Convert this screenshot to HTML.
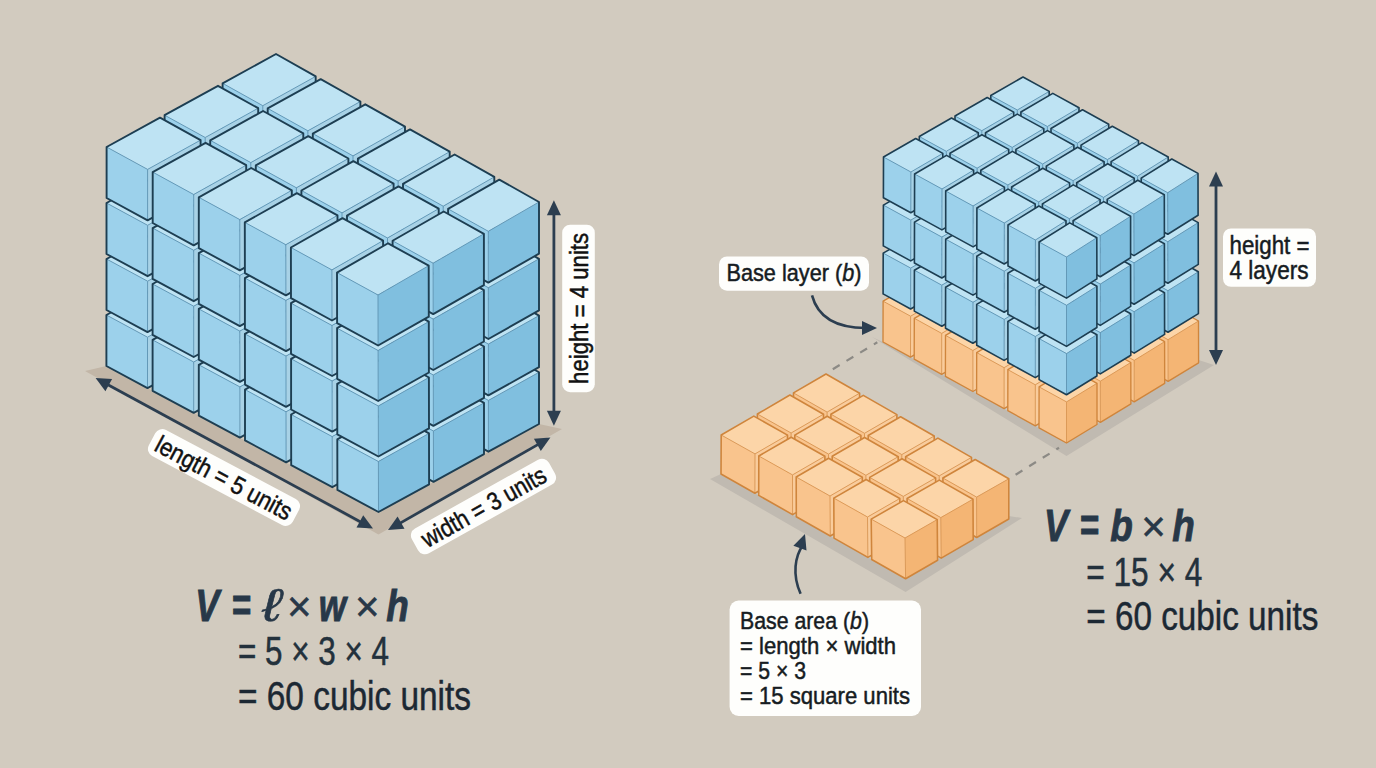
<!DOCTYPE html>
<html><head><meta charset="utf-8">
<style>
html,body{margin:0;padding:0;width:1376px;height:768px;overflow:hidden;background:#d2cbbf;}
svg{position:absolute;left:0;top:0;}
text{font-family:"Liberation Sans",sans-serif;}
</style></head><body>
<svg width="1376" height="768" viewBox="0 0 1376 768">
<polygon points="85,371 378.5,534.5 562,429 539,424 378.5,512 106.4,366" fill="#c2b6a7"/>
<polygon points="222.6,251.3 262.7,273.9 315.7,244.7 276.0,222.0" fill="#bee3f3"/>
<polygon points="222.6,302.3 262.7,324.9 262.7,273.9 222.6,251.3" fill="#9cd1eb"/>
<polygon points="262.7,324.9 315.7,295.8 315.7,244.7 262.7,273.9" fill="#a8d2e6"/>
<polyline points="222.6,251.3 262.7,273.9 315.7,244.7" fill="none" stroke="#6399b8" stroke-width="1"/>
<line x1="262.7" y1="273.9" x2="262.7" y2="324.9" stroke="#6399b8" stroke-width="1"/>
<polygon points="222.6,302.3 262.7,324.9 315.7,295.8 315.7,244.7 276.0,222.0 222.6,251.3" fill="none" stroke="#1d3e52" stroke-width="1.90" stroke-linejoin="round"/>
<polygon points="164.5,283.2 205.1,305.5 258.1,276.4 217.9,253.9" fill="#bee3f3"/>
<polygon points="164.5,334.2 205.1,356.5 205.1,305.5 164.5,283.2" fill="#9cd1eb"/>
<polygon points="205.1,356.5 258.1,327.4 258.1,276.4 205.1,305.5" fill="#a8d2e6"/>
<polyline points="164.5,283.2 205.1,305.5 258.1,276.4" fill="none" stroke="#6399b8" stroke-width="1"/>
<line x1="205.1" y1="305.5" x2="205.1" y2="356.5" stroke="#6399b8" stroke-width="1"/>
<polygon points="164.5,334.2 205.1,356.5 258.1,327.4 258.1,276.4 217.9,253.9 164.5,283.2" fill="none" stroke="#1d3e52" stroke-width="1.90" stroke-linejoin="round"/>
<polygon points="267.7,276.6 307.9,299.2 360.4,270.3 320.7,247.5" fill="#bee3f3"/>
<polygon points="267.7,327.7 307.9,350.2 307.9,299.2 267.7,276.6" fill="#9cd1eb"/>
<polygon points="307.9,350.2 360.4,321.5 360.4,270.3 307.9,299.2" fill="#a8d2e6"/>
<polyline points="267.7,276.6 307.9,299.2 360.4,270.3" fill="none" stroke="#6399b8" stroke-width="1"/>
<line x1="307.9" y1="299.2" x2="307.9" y2="350.2" stroke="#6399b8" stroke-width="1"/>
<polygon points="267.7,327.7 307.9,350.2 360.4,321.5 360.4,270.3 320.7,247.5 267.7,276.6" fill="none" stroke="#1d3e52" stroke-width="1.90" stroke-linejoin="round"/>
<polygon points="222.6,195.3 262.8,217.8 315.7,188.6 276.0,166.0" fill="#bee3f3"/>
<polygon points="222.6,246.3 262.7,268.8 262.8,217.8 222.6,195.3" fill="#9cd1eb"/>
<polygon points="262.7,268.8 315.7,239.7 315.7,188.6 262.8,217.8" fill="#a8d2e6"/>
<polyline points="222.6,195.3 262.8,217.8 315.7,188.6" fill="none" stroke="#6399b8" stroke-width="1"/>
<line x1="262.8" y1="217.8" x2="262.7" y2="268.8" stroke="#6399b8" stroke-width="1"/>
<polygon points="222.6,246.3 262.7,268.8 315.7,239.7 315.7,188.6 276.0,166.0 222.6,195.3" fill="none" stroke="#1d3e52" stroke-width="1.90" stroke-linejoin="round"/>
<polygon points="106.4,315.0 147.5,337.2 200.5,308.0 159.9,285.7" fill="#bee3f3"/>
<polygon points="106.4,366.0 147.5,388.1 147.5,337.2 106.4,315.0" fill="#9cd1eb"/>
<polygon points="147.5,388.1 200.5,359.0 200.5,308.0 147.5,337.2" fill="#a8d2e6"/>
<polyline points="106.4,315.0 147.5,337.2 200.5,308.0" fill="none" stroke="#6399b8" stroke-width="1"/>
<line x1="147.5" y1="337.2" x2="147.5" y2="388.1" stroke="#6399b8" stroke-width="1"/>
<polygon points="106.4,366.0 147.5,388.1 200.5,359.0 200.5,308.0 159.9,285.7 106.4,315.0" fill="none" stroke="#1d3e52" stroke-width="1.90" stroke-linejoin="round"/>
<polygon points="210.2,308.3 250.8,330.6 303.3,301.7 263.1,279.2" fill="#bee3f3"/>
<polygon points="210.2,359.2 250.8,381.5 250.8,330.6 210.2,308.3" fill="#9cd1eb"/>
<polygon points="250.8,381.5 303.3,352.8 303.3,301.7 250.8,330.6" fill="#a8d2e6"/>
<polyline points="210.2,308.3 250.8,330.6 303.3,301.7" fill="none" stroke="#6399b8" stroke-width="1"/>
<line x1="250.8" y1="330.6" x2="250.8" y2="381.5" stroke="#6399b8" stroke-width="1"/>
<polygon points="210.2,359.2 250.8,381.5 303.3,352.8 303.3,301.7 263.1,279.2 210.2,308.3" fill="none" stroke="#1d3e52" stroke-width="1.90" stroke-linejoin="round"/>
<polygon points="312.8,302.0 353.0,324.5 405.0,295.8 365.3,273.1" fill="#bee3f3"/>
<polygon points="312.8,353.0 353.0,375.6 353.0,324.5 312.8,302.0" fill="#9cd1eb"/>
<polygon points="353.0,375.6 405.0,347.1 405.0,295.8 353.0,324.5" fill="#a8d2e6"/>
<polyline points="312.8,302.0 353.0,324.5 405.0,295.8" fill="none" stroke="#6399b8" stroke-width="1"/>
<line x1="353.0" y1="324.5" x2="353.0" y2="375.6" stroke="#6399b8" stroke-width="1"/>
<polygon points="312.8,353.0 353.0,375.6 405.0,347.1 405.0,295.8 365.3,273.1 312.8,302.0" fill="none" stroke="#1d3e52" stroke-width="1.90" stroke-linejoin="round"/>
<polygon points="164.5,227.2 205.2,249.5 258.1,220.3 218.0,197.9" fill="#bee3f3"/>
<polygon points="164.5,278.1 205.1,300.5 205.2,249.5 164.5,227.2" fill="#9cd1eb"/>
<polygon points="205.1,300.5 258.1,271.3 258.1,220.3 205.2,249.5" fill="#a8d2e6"/>
<polyline points="164.5,227.2 205.2,249.5 258.1,220.3" fill="none" stroke="#6399b8" stroke-width="1"/>
<line x1="205.2" y1="249.5" x2="205.1" y2="300.5" stroke="#6399b8" stroke-width="1"/>
<polygon points="164.5,278.1 205.1,300.5 258.1,271.3 258.1,220.3 218.0,197.9 164.5,227.2" fill="none" stroke="#1d3e52" stroke-width="1.90" stroke-linejoin="round"/>
<polygon points="267.7,220.6 307.9,243.0 360.4,214.0 320.7,191.4" fill="#bee3f3"/>
<polygon points="267.7,271.6 307.9,294.1 307.9,243.0 267.7,220.6" fill="#9cd1eb"/>
<polygon points="307.9,294.1 360.4,265.2 360.4,214.0 307.9,243.0" fill="#a8d2e6"/>
<polyline points="267.7,220.6 307.9,243.0 360.4,214.0" fill="none" stroke="#6399b8" stroke-width="1"/>
<line x1="307.9" y1="243.0" x2="307.9" y2="294.1" stroke="#6399b8" stroke-width="1"/>
<polygon points="267.7,271.6 307.9,294.1 360.4,265.2 360.4,214.0 320.7,191.4 267.7,220.6" fill="none" stroke="#1d3e52" stroke-width="1.90" stroke-linejoin="round"/>
<polygon points="222.6,139.3 262.8,161.7 315.7,132.5 276.0,110.0" fill="#bee3f3"/>
<polygon points="222.6,190.3 262.8,212.7 262.8,161.7 222.6,139.3" fill="#9cd1eb"/>
<polygon points="262.8,212.7 315.7,183.6 315.7,132.5 262.8,161.7" fill="#a8d2e6"/>
<polyline points="222.6,139.3 262.8,161.7 315.7,132.5" fill="none" stroke="#6399b8" stroke-width="1"/>
<line x1="262.8" y1="161.7" x2="262.8" y2="212.7" stroke="#6399b8" stroke-width="1"/>
<polygon points="222.6,190.3 262.8,212.7 315.7,183.6 315.7,132.5 276.0,110.0 222.6,139.3" fill="none" stroke="#1d3e52" stroke-width="1.90" stroke-linejoin="round"/>
<polygon points="152.6,339.9 193.7,362.0 246.2,333.1 205.6,310.8" fill="#bee3f3"/>
<polygon points="152.6,390.8 193.7,412.8 193.7,362.0 152.6,339.9" fill="#9cd1eb"/>
<polygon points="193.7,412.8 246.2,384.1 246.2,333.1 193.7,362.0" fill="#a8d2e6"/>
<polyline points="152.6,339.9 193.7,362.0 246.2,333.1" fill="none" stroke="#6399b8" stroke-width="1"/>
<line x1="193.7" y1="362.0" x2="193.7" y2="412.8" stroke="#6399b8" stroke-width="1"/>
<polygon points="152.6,390.8 193.7,412.8 246.2,384.1 246.2,333.1 205.6,310.8 152.6,339.9" fill="none" stroke="#1d3e52" stroke-width="1.90" stroke-linejoin="round"/>
<polygon points="255.8,333.4 296.4,355.7 348.5,327.0 308.3,304.5" fill="#bee3f3"/>
<polygon points="255.8,384.3 296.5,406.6 296.4,355.7 255.8,333.4" fill="#9cd1eb"/>
<polygon points="296.5,406.6 348.5,378.1 348.5,327.0 296.4,355.7" fill="#a8d2e6"/>
<polyline points="255.8,333.4 296.4,355.7 348.5,327.0" fill="none" stroke="#6399b8" stroke-width="1"/>
<line x1="296.4" y1="355.7" x2="296.5" y2="406.6" stroke="#6399b8" stroke-width="1"/>
<polygon points="255.8,384.3 296.5,406.6 348.5,378.1 348.5,327.0 308.3,304.5 255.8,333.4" fill="none" stroke="#1d3e52" stroke-width="1.90" stroke-linejoin="round"/>
<polygon points="358.0,327.3 398.1,349.8 449.7,321.3 410.0,298.6" fill="#bee3f3"/>
<polygon points="358.0,378.4 398.2,401.0 398.1,349.8 358.0,327.3" fill="#9cd1eb"/>
<polygon points="398.2,401.0 449.7,372.7 449.7,321.3 398.1,349.8" fill="#a8d2e6"/>
<polyline points="358.0,327.3 398.1,349.8 449.7,321.3" fill="none" stroke="#6399b8" stroke-width="1"/>
<line x1="398.1" y1="349.8" x2="398.2" y2="401.0" stroke="#6399b8" stroke-width="1"/>
<polygon points="358.0,378.4 398.2,401.0 449.7,372.7 449.7,321.3 410.0,298.6 358.0,327.3" fill="none" stroke="#1d3e52" stroke-width="1.90" stroke-linejoin="round"/>
<polygon points="106.5,259.0 147.6,281.2 200.5,252.0 159.9,229.7" fill="#bee3f3"/>
<polygon points="106.5,310.0 147.5,332.1 147.6,281.2 106.5,259.0" fill="#9cd1eb"/>
<polygon points="147.5,332.1 200.5,303.0 200.5,252.0 147.6,281.2" fill="#a8d2e6"/>
<polyline points="106.5,259.0 147.6,281.2 200.5,252.0" fill="none" stroke="#6399b8" stroke-width="1"/>
<line x1="147.6" y1="281.2" x2="147.5" y2="332.1" stroke="#6399b8" stroke-width="1"/>
<polygon points="106.5,310.0 147.5,332.1 200.5,303.0 200.5,252.0 159.9,229.7 106.5,259.0" fill="none" stroke="#1d3e52" stroke-width="1.90" stroke-linejoin="round"/>
<polygon points="210.2,252.3 250.8,274.6 303.3,245.6 263.1,223.1" fill="#bee3f3"/>
<polygon points="210.2,303.2 250.8,325.6 250.8,274.6 210.2,252.3" fill="#9cd1eb"/>
<polygon points="250.8,325.6 303.3,296.6 303.3,245.6 250.8,274.6" fill="#a8d2e6"/>
<polyline points="210.2,252.3 250.8,274.6 303.3,245.6" fill="none" stroke="#6399b8" stroke-width="1"/>
<line x1="250.8" y1="274.6" x2="250.8" y2="325.6" stroke="#6399b8" stroke-width="1"/>
<polygon points="210.2,303.2 250.8,325.6 303.3,296.6 303.3,245.6 263.1,223.1 210.2,252.3" fill="none" stroke="#1d3e52" stroke-width="1.90" stroke-linejoin="round"/>
<polygon points="312.8,245.8 353.0,268.3 405.0,239.4 365.3,216.8" fill="#bee3f3"/>
<polygon points="312.8,296.9 353.0,319.4 353.0,268.3 312.8,245.8" fill="#9cd1eb"/>
<polygon points="353.0,319.4 405.0,290.7 405.0,239.4 353.0,268.3" fill="#a8d2e6"/>
<polyline points="312.8,245.8 353.0,268.3 405.0,239.4" fill="none" stroke="#6399b8" stroke-width="1"/>
<line x1="353.0" y1="268.3" x2="353.0" y2="319.4" stroke="#6399b8" stroke-width="1"/>
<polygon points="312.8,296.9 353.0,319.4 405.0,290.7 405.0,239.4 365.3,216.8 312.8,245.8" fill="none" stroke="#1d3e52" stroke-width="1.90" stroke-linejoin="round"/>
<polygon points="164.6,171.2 205.2,193.5 258.2,164.3 218.0,141.9" fill="#bee3f3"/>
<polygon points="164.5,222.1 205.2,244.5 205.2,193.5 164.6,171.2" fill="#9cd1eb"/>
<polygon points="205.2,244.5 258.1,215.3 258.2,164.3 205.2,193.5" fill="#a8d2e6"/>
<polyline points="164.6,171.2 205.2,193.5 258.2,164.3" fill="none" stroke="#6399b8" stroke-width="1"/>
<line x1="205.2" y1="193.5" x2="205.2" y2="244.5" stroke="#6399b8" stroke-width="1"/>
<polygon points="164.5,222.1 205.2,244.5 258.1,215.3 258.2,164.3 218.0,141.9 164.6,171.2" fill="none" stroke="#1d3e52" stroke-width="1.90" stroke-linejoin="round"/>
<polygon points="267.7,164.5 307.9,186.9 360.4,157.7 320.7,135.3" fill="#bee3f3"/>
<polygon points="267.7,215.5 307.9,238.0 307.9,186.9 267.7,164.5" fill="#9cd1eb"/>
<polygon points="307.9,238.0 360.4,208.9 360.4,157.7 307.9,186.9" fill="#a8d2e6"/>
<polyline points="267.7,164.5 307.9,186.9 360.4,157.7" fill="none" stroke="#6399b8" stroke-width="1"/>
<line x1="307.9" y1="186.9" x2="307.9" y2="238.0" stroke="#6399b8" stroke-width="1"/>
<polygon points="267.7,215.5 307.9,238.0 360.4,208.9 360.4,157.7 320.7,135.3 267.7,164.5" fill="none" stroke="#1d3e52" stroke-width="1.90" stroke-linejoin="round"/>
<polygon points="222.6,83.3 262.8,105.7 315.7,76.4 276.0,54.0" fill="#bee3f3"/>
<polygon points="222.6,134.3 262.8,156.7 262.8,105.7 222.6,83.3" fill="#9cd1eb"/>
<polygon points="262.8,156.7 315.7,127.4 315.7,76.4 262.8,105.7" fill="#a8d2e6"/>
<polyline points="222.6,83.3 262.8,105.7 315.7,76.4" fill="none" stroke="#6399b8" stroke-width="1"/>
<line x1="262.8" y1="105.7" x2="262.8" y2="156.7" stroke="#6399b8" stroke-width="1"/>
<polygon points="222.6,134.3 262.8,156.7 315.7,127.4 315.7,76.4 276.0,54.0 222.6,83.3" fill="none" stroke="#1d3e52" stroke-width="1.90" stroke-linejoin="round"/>
<polygon points="198.8,364.8 239.9,386.9 291.9,358.2 251.2,335.9" fill="#bee3f3"/>
<polygon points="198.8,415.6 239.9,437.6 239.9,386.9 198.8,364.8" fill="#9cd1eb"/>
<polygon points="239.9,437.6 291.9,409.1 291.9,358.2 239.9,386.9" fill="#a8d2e6"/>
<polyline points="198.8,364.8 239.9,386.9 291.9,358.2" fill="none" stroke="#6399b8" stroke-width="1"/>
<line x1="239.9" y1="386.9" x2="239.9" y2="437.6" stroke="#6399b8" stroke-width="1"/>
<polygon points="198.8,415.6 239.9,437.6 291.9,409.1 291.9,358.2 251.2,335.9 198.8,364.8" fill="none" stroke="#1d3e52" stroke-width="1.90" stroke-linejoin="round"/>
<polygon points="301.5,358.5 342.1,380.8 393.7,352.3 353.4,329.8" fill="#bee3f3"/>
<polygon points="301.5,409.4 342.1,431.7 342.1,380.8 301.5,358.5" fill="#9cd1eb"/>
<polygon points="342.1,431.7 393.7,403.4 393.7,352.3 342.1,380.8" fill="#a8d2e6"/>
<polyline points="301.5,358.5 342.1,380.8 393.7,352.3" fill="none" stroke="#6399b8" stroke-width="1"/>
<line x1="342.1" y1="380.8" x2="342.1" y2="431.7" stroke="#6399b8" stroke-width="1"/>
<polygon points="301.5,409.4 342.1,431.7 393.7,403.4 393.7,352.3 353.4,329.8 301.5,358.5" fill="none" stroke="#1d3e52" stroke-width="1.90" stroke-linejoin="round"/>
<polygon points="403.1,352.6 443.3,375.1 494.3,346.8 454.6,324.1" fill="#bee3f3"/>
<polygon points="403.1,403.8 443.3,426.4 443.3,375.1 403.1,352.6" fill="#9cd1eb"/>
<polygon points="443.3,426.4 494.3,398.4 494.3,346.8 443.3,375.1" fill="#a8d2e6"/>
<polyline points="403.1,352.6 443.3,375.1 494.3,346.8" fill="none" stroke="#6399b8" stroke-width="1"/>
<line x1="443.3" y1="375.1" x2="443.3" y2="426.4" stroke="#6399b8" stroke-width="1"/>
<polygon points="403.1,403.8 443.3,426.4 494.3,398.4 494.3,346.8 454.6,324.1 403.1,352.6" fill="none" stroke="#1d3e52" stroke-width="1.90" stroke-linejoin="round"/>
<polygon points="152.6,284.0 193.7,306.2 246.2,277.1 205.6,254.8" fill="#bee3f3"/>
<polygon points="152.6,334.9 193.7,357.0 193.7,306.2 152.6,284.0" fill="#9cd1eb"/>
<polygon points="193.7,357.0 246.2,328.1 246.2,277.1 193.7,306.2" fill="#a8d2e6"/>
<polyline points="152.6,284.0 193.7,306.2 246.2,277.1" fill="none" stroke="#6399b8" stroke-width="1"/>
<line x1="193.7" y1="306.2" x2="193.7" y2="357.0" stroke="#6399b8" stroke-width="1"/>
<polygon points="152.6,334.9 193.7,357.0 246.2,328.1 246.2,277.1 205.6,254.8 152.6,284.0" fill="none" stroke="#1d3e52" stroke-width="1.90" stroke-linejoin="round"/>
<polygon points="255.8,277.4 296.4,299.7 348.5,270.8 308.3,248.3" fill="#bee3f3"/>
<polygon points="255.8,328.3 296.4,350.7 296.4,299.7 255.8,277.4" fill="#9cd1eb"/>
<polygon points="296.4,350.7 348.5,321.9 348.5,270.8 296.4,299.7" fill="#a8d2e6"/>
<polyline points="255.8,277.4 296.4,299.7 348.5,270.8" fill="none" stroke="#6399b8" stroke-width="1"/>
<line x1="296.4" y1="299.7" x2="296.4" y2="350.7" stroke="#6399b8" stroke-width="1"/>
<polygon points="255.8,328.3 296.4,350.7 348.5,321.9 348.5,270.8 308.3,248.3 255.8,277.4" fill="none" stroke="#1d3e52" stroke-width="1.90" stroke-linejoin="round"/>
<polygon points="358.0,271.1 398.1,293.5 449.7,264.8 410.0,242.2" fill="#bee3f3"/>
<polygon points="358.0,322.2 398.1,344.7 398.1,293.5 358.0,271.1" fill="#9cd1eb"/>
<polygon points="398.1,344.7 449.7,316.2 449.7,264.8 398.1,293.5" fill="#a8d2e6"/>
<polyline points="358.0,271.1 398.1,293.5 449.7,264.8" fill="none" stroke="#6399b8" stroke-width="1"/>
<line x1="398.1" y1="293.5" x2="398.1" y2="344.7" stroke="#6399b8" stroke-width="1"/>
<polygon points="358.0,322.2 398.1,344.7 449.7,316.2 449.7,264.8 410.0,242.2 358.0,271.1" fill="none" stroke="#1d3e52" stroke-width="1.90" stroke-linejoin="round"/>
<polygon points="106.5,203.0 147.6,225.3 200.6,196.1 159.9,173.7" fill="#bee3f3"/>
<polygon points="106.5,254.0 147.6,276.2 147.6,225.3 106.5,203.0" fill="#9cd1eb"/>
<polygon points="147.6,276.2 200.6,247.0 200.6,196.1 147.6,225.3" fill="#a8d2e6"/>
<polyline points="106.5,203.0 147.6,225.3 200.6,196.1" fill="none" stroke="#6399b8" stroke-width="1"/>
<line x1="147.6" y1="225.3" x2="147.6" y2="276.2" stroke="#6399b8" stroke-width="1"/>
<polygon points="106.5,254.0 147.6,276.2 200.6,247.0 200.6,196.1 159.9,173.7 106.5,203.0" fill="none" stroke="#1d3e52" stroke-width="1.90" stroke-linejoin="round"/>
<polygon points="210.2,196.3 250.8,218.6 303.3,189.5 263.1,167.0" fill="#bee3f3"/>
<polygon points="210.2,247.2 250.8,269.6 250.8,218.6 210.2,196.3" fill="#9cd1eb"/>
<polygon points="250.8,269.6 303.3,240.5 303.3,189.5 250.8,218.6" fill="#a8d2e6"/>
<polyline points="210.2,196.3 250.8,218.6 303.3,189.5" fill="none" stroke="#6399b8" stroke-width="1"/>
<line x1="250.8" y1="218.6" x2="250.8" y2="269.6" stroke="#6399b8" stroke-width="1"/>
<polygon points="210.2,247.2 250.8,269.6 303.3,240.5 303.3,189.5 263.1,167.0 210.2,196.3" fill="none" stroke="#1d3e52" stroke-width="1.90" stroke-linejoin="round"/>
<polygon points="312.8,189.7 353.0,212.1 405.0,183.0 365.3,160.5" fill="#bee3f3"/>
<polygon points="312.8,240.8 353.0,263.2 353.0,212.1 312.8,189.7" fill="#9cd1eb"/>
<polygon points="353.0,263.2 405.0,234.3 405.0,183.0 353.0,212.1" fill="#a8d2e6"/>
<polyline points="312.8,189.7 353.0,212.1 405.0,183.0" fill="none" stroke="#6399b8" stroke-width="1"/>
<line x1="353.0" y1="212.1" x2="353.0" y2="263.2" stroke="#6399b8" stroke-width="1"/>
<polygon points="312.8,240.8 353.0,263.2 405.0,234.3 405.0,183.0 365.3,160.5 312.8,189.7" fill="none" stroke="#1d3e52" stroke-width="1.90" stroke-linejoin="round"/>
<polygon points="164.6,115.2 205.2,137.5 258.2,108.2 218.0,85.8" fill="#bee3f3"/>
<polygon points="164.6,166.1 205.2,188.5 205.2,137.5 164.6,115.2" fill="#9cd1eb"/>
<polygon points="205.2,188.5 258.2,159.2 258.2,108.2 205.2,137.5" fill="#a8d2e6"/>
<polyline points="164.6,115.2 205.2,137.5 258.2,108.2" fill="none" stroke="#6399b8" stroke-width="1"/>
<line x1="205.2" y1="137.5" x2="205.2" y2="188.5" stroke="#6399b8" stroke-width="1"/>
<polygon points="164.6,166.1 205.2,188.5 258.2,159.2 258.2,108.2 218.0,85.8 164.6,115.2" fill="none" stroke="#1d3e52" stroke-width="1.90" stroke-linejoin="round"/>
<polygon points="267.7,108.4 307.9,130.8 360.4,101.5 320.7,79.1" fill="#bee3f3"/>
<polygon points="267.7,159.5 307.9,181.9 307.9,130.8 267.7,108.4" fill="#9cd1eb"/>
<polygon points="307.9,181.9 360.4,152.7 360.4,101.5 307.9,130.8" fill="#a8d2e6"/>
<polyline points="267.7,108.4 307.9,130.8 360.4,101.5" fill="none" stroke="#6399b8" stroke-width="1"/>
<line x1="307.9" y1="130.8" x2="307.9" y2="181.9" stroke="#6399b8" stroke-width="1"/>
<polygon points="267.7,159.5 307.9,181.9 360.4,152.7 360.4,101.5 320.7,79.1 267.7,108.4" fill="none" stroke="#1d3e52" stroke-width="1.90" stroke-linejoin="round"/>
<polygon points="245.0,389.6 286.0,411.8 337.6,383.3 296.9,360.9" fill="#bee3f3"/>
<polygon points="245.0,440.4 286.1,462.4 286.0,411.8 245.0,389.6" fill="#9cd1eb"/>
<polygon points="286.1,462.4 337.6,434.2 337.6,383.3 286.0,411.8" fill="#a8d2e6"/>
<polyline points="245.0,389.6 286.0,411.8 337.6,383.3" fill="none" stroke="#6399b8" stroke-width="1"/>
<line x1="286.0" y1="411.8" x2="286.1" y2="462.4" stroke="#6399b8" stroke-width="1"/>
<polygon points="245.0,440.4 286.1,462.4 337.6,434.2 337.6,383.3 296.9,360.9 245.0,389.6" fill="none" stroke="#1d3e52" stroke-width="1.90" stroke-linejoin="round"/>
<polygon points="347.1,383.5 387.7,405.9 438.8,377.6 398.6,355.1" fill="#bee3f3"/>
<polygon points="347.2,434.5 387.8,456.8 387.7,405.9 347.1,383.5" fill="#9cd1eb"/>
<polygon points="387.8,456.8 438.9,428.8 438.8,377.6 387.7,405.9" fill="#a8d2e6"/>
<polyline points="347.1,383.5 387.7,405.9 438.8,377.6" fill="none" stroke="#6399b8" stroke-width="1"/>
<line x1="387.7" y1="405.9" x2="387.8" y2="456.8" stroke="#6399b8" stroke-width="1"/>
<polygon points="347.2,434.5 387.8,456.8 438.9,428.8 438.8,377.6 398.6,355.1 347.1,383.5" fill="none" stroke="#1d3e52" stroke-width="1.90" stroke-linejoin="round"/>
<polygon points="448.2,377.9 488.4,400.4 539.0,372.3 499.3,349.6" fill="#bee3f3"/>
<polygon points="448.3,429.1 488.4,451.7 488.4,400.4 448.2,377.9" fill="#9cd1eb"/>
<polygon points="488.4,451.7 539.0,424.0 539.0,372.3 488.4,400.4" fill="#80bfdf"/>
<polyline points="448.2,377.9 488.4,400.4 539.0,372.3" fill="none" stroke="#6399b8" stroke-width="1"/>
<line x1="488.4" y1="400.4" x2="488.4" y2="451.7" stroke="#6399b8" stroke-width="1"/>
<polygon points="448.3,429.1 488.4,451.7 539.0,424.0 539.0,372.3 499.3,349.6 448.2,377.9" fill="none" stroke="#1d3e52" stroke-width="1.90" stroke-linejoin="round"/>
<polygon points="198.8,308.9 239.8,331.1 291.9,302.2 251.2,279.9" fill="#bee3f3"/>
<polygon points="198.8,359.7 239.9,381.9 239.8,331.1 198.8,308.9" fill="#9cd1eb"/>
<polygon points="239.9,381.9 291.9,353.2 291.9,302.2 239.8,331.1" fill="#a8d2e6"/>
<polyline points="198.8,308.9 239.8,331.1 291.9,302.2" fill="none" stroke="#6399b8" stroke-width="1"/>
<line x1="239.8" y1="331.1" x2="239.9" y2="381.9" stroke="#6399b8" stroke-width="1"/>
<polygon points="198.8,359.7 239.9,381.9 291.9,353.2 291.9,302.2 251.2,279.9 198.8,308.9" fill="none" stroke="#1d3e52" stroke-width="1.90" stroke-linejoin="round"/>
<polygon points="301.4,302.5 342.0,324.8 393.6,296.1 353.4,273.6" fill="#bee3f3"/>
<polygon points="301.5,353.4 342.1,375.7 342.0,324.8 301.4,302.5" fill="#9cd1eb"/>
<polygon points="342.1,375.7 393.6,347.2 393.6,296.1 342.0,324.8" fill="#a8d2e6"/>
<polyline points="301.4,302.5 342.0,324.8 393.6,296.1" fill="none" stroke="#6399b8" stroke-width="1"/>
<line x1="342.0" y1="324.8" x2="342.1" y2="375.7" stroke="#6399b8" stroke-width="1"/>
<polygon points="301.5,353.4 342.1,375.7 393.6,347.2 393.6,296.1 353.4,273.6 301.4,302.5" fill="none" stroke="#1d3e52" stroke-width="1.90" stroke-linejoin="round"/>
<polygon points="403.1,296.3 443.2,318.8 494.3,290.2 454.6,267.6" fill="#bee3f3"/>
<polygon points="403.1,347.5 443.3,370.0 443.2,318.8 403.1,296.3" fill="#9cd1eb"/>
<polygon points="443.3,370.0 494.3,341.7 494.3,290.2 443.2,318.8" fill="#a8d2e6"/>
<polyline points="403.1,296.3 443.2,318.8 494.3,290.2" fill="none" stroke="#6399b8" stroke-width="1"/>
<line x1="443.2" y1="318.8" x2="443.3" y2="370.0" stroke="#6399b8" stroke-width="1"/>
<polygon points="403.1,347.5 443.3,370.0 494.3,341.7 494.3,290.2 454.6,267.6 403.1,296.3" fill="none" stroke="#1d3e52" stroke-width="1.90" stroke-linejoin="round"/>
<polygon points="152.7,228.1 193.7,250.3 246.2,221.2 205.6,198.8" fill="#bee3f3"/>
<polygon points="152.6,278.9 193.7,301.2 193.7,250.3 152.7,228.1" fill="#9cd1eb"/>
<polygon points="193.7,301.2 246.2,272.1 246.2,221.2 193.7,250.3" fill="#a8d2e6"/>
<polyline points="152.7,228.1 193.7,250.3 246.2,221.2" fill="none" stroke="#6399b8" stroke-width="1"/>
<line x1="193.7" y1="250.3" x2="193.7" y2="301.2" stroke="#6399b8" stroke-width="1"/>
<polygon points="152.6,278.9 193.7,301.2 246.2,272.1 246.2,221.2 205.6,198.8 152.7,228.1" fill="none" stroke="#1d3e52" stroke-width="1.90" stroke-linejoin="round"/>
<polygon points="255.8,221.4 296.4,243.7 348.5,214.6 308.3,192.2" fill="#bee3f3"/>
<polygon points="255.8,272.3 296.4,294.7 296.4,243.7 255.8,221.4" fill="#9cd1eb"/>
<polygon points="296.4,294.7 348.5,265.8 348.5,214.6 296.4,243.7" fill="#a8d2e6"/>
<polyline points="255.8,221.4 296.4,243.7 348.5,214.6" fill="none" stroke="#6399b8" stroke-width="1"/>
<line x1="296.4" y1="243.7" x2="296.4" y2="294.7" stroke="#6399b8" stroke-width="1"/>
<polygon points="255.8,272.3 296.4,294.7 348.5,265.8 348.5,214.6 308.3,192.2 255.8,221.4" fill="none" stroke="#1d3e52" stroke-width="1.90" stroke-linejoin="round"/>
<polygon points="357.9,214.9 398.1,237.3 449.7,208.3 410.0,185.8" fill="#bee3f3"/>
<polygon points="358.0,266.0 398.1,288.5 398.1,237.3 357.9,214.9" fill="#9cd1eb"/>
<polygon points="398.1,288.5 449.7,259.7 449.7,208.3 398.1,237.3" fill="#a8d2e6"/>
<polyline points="357.9,214.9 398.1,237.3 449.7,208.3" fill="none" stroke="#6399b8" stroke-width="1"/>
<line x1="398.1" y1="237.3" x2="398.1" y2="288.5" stroke="#6399b8" stroke-width="1"/>
<polygon points="358.0,266.0 398.1,288.5 449.7,259.7 449.7,208.3 410.0,185.8 357.9,214.9" fill="none" stroke="#1d3e52" stroke-width="1.90" stroke-linejoin="round"/>
<polygon points="106.6,147.0 147.6,169.4 200.6,140.1 160.0,117.7" fill="#bee3f3"/>
<polygon points="106.6,198.0 147.6,220.3 147.6,169.4 106.6,147.0" fill="#9cd1eb"/>
<polygon points="147.6,220.3 200.6,191.0 200.6,140.1 147.6,169.4" fill="#a8d2e6"/>
<polyline points="106.6,147.0 147.6,169.4 200.6,140.1" fill="none" stroke="#6399b8" stroke-width="1"/>
<line x1="147.6" y1="169.4" x2="147.6" y2="220.3" stroke="#6399b8" stroke-width="1"/>
<polygon points="106.6,198.0 147.6,220.3 200.6,191.0 200.6,140.1 160.0,117.7 106.6,147.0" fill="none" stroke="#1d3e52" stroke-width="1.90" stroke-linejoin="round"/>
<polygon points="210.2,140.3 250.8,162.6 303.3,133.3 263.1,111.0" fill="#bee3f3"/>
<polygon points="210.2,191.2 250.8,213.6 250.8,162.6 210.2,140.3" fill="#9cd1eb"/>
<polygon points="250.8,213.6 303.3,184.4 303.3,133.3 250.8,162.6" fill="#a8d2e6"/>
<polyline points="210.2,140.3 250.8,162.6 303.3,133.3" fill="none" stroke="#6399b8" stroke-width="1"/>
<line x1="250.8" y1="162.6" x2="250.8" y2="213.6" stroke="#6399b8" stroke-width="1"/>
<polygon points="210.2,191.2 250.8,213.6 303.3,184.4 303.3,133.3 263.1,111.0 210.2,140.3" fill="none" stroke="#1d3e52" stroke-width="1.90" stroke-linejoin="round"/>
<polygon points="312.8,133.6 353.0,155.9 405.0,126.6 365.3,104.3" fill="#bee3f3"/>
<polygon points="312.8,184.6 353.0,207.1 353.0,155.9 312.8,133.6" fill="#9cd1eb"/>
<polygon points="353.0,207.1 405.0,177.9 405.0,126.6 353.0,155.9" fill="#a8d2e6"/>
<polyline points="312.8,133.6 353.0,155.9 405.0,126.6" fill="none" stroke="#6399b8" stroke-width="1"/>
<line x1="353.0" y1="155.9" x2="353.0" y2="207.1" stroke="#6399b8" stroke-width="1"/>
<polygon points="312.8,184.6 353.0,207.1 405.0,177.9 405.0,126.6 365.3,104.3 312.8,133.6" fill="none" stroke="#1d3e52" stroke-width="1.90" stroke-linejoin="round"/>
<polygon points="291.1,414.5 332.2,436.6 383.3,408.3 342.6,386.0" fill="#bee3f3"/>
<polygon points="291.2,465.2 332.3,487.2 332.2,436.6 291.1,414.5" fill="#9cd1eb"/>
<polygon points="332.3,487.2 383.4,459.2 383.3,408.3 332.2,436.6" fill="#a8d2e6"/>
<polyline points="291.1,414.5 332.2,436.6 383.3,408.3" fill="none" stroke="#6399b8" stroke-width="1"/>
<line x1="332.2" y1="436.6" x2="332.3" y2="487.2" stroke="#6399b8" stroke-width="1"/>
<polygon points="291.2,465.2 332.3,487.2 383.4,459.2 383.3,408.3 342.6,386.0 291.1,414.5" fill="none" stroke="#1d3e52" stroke-width="1.90" stroke-linejoin="round"/>
<polygon points="392.8,408.6 433.4,431.0 484.0,402.9 443.8,380.4" fill="#bee3f3"/>
<polygon points="392.8,459.5 433.5,481.9 433.4,431.0 392.8,408.6" fill="#9cd1eb"/>
<polygon points="433.5,481.9 484.0,454.1 484.0,402.9 433.4,431.0" fill="#80bfdf"/>
<polyline points="392.8,408.6 433.4,431.0 484.0,402.9" fill="none" stroke="#6399b8" stroke-width="1"/>
<line x1="433.4" y1="431.0" x2="433.5" y2="481.9" stroke="#6399b8" stroke-width="1"/>
<polygon points="392.8,459.5 433.5,481.9 484.0,454.1 484.0,402.9 443.8,380.4 392.8,408.6" fill="none" stroke="#1d3e52" stroke-width="1.90" stroke-linejoin="round"/>
<polygon points="244.9,333.9 286.0,356.1 337.6,327.3 296.9,305.0" fill="#bee3f3"/>
<polygon points="245.0,384.6 286.0,406.8 286.0,356.1 244.9,333.9" fill="#9cd1eb"/>
<polygon points="286.0,406.8 337.6,378.2 337.6,327.3 286.0,356.1" fill="#a8d2e6"/>
<polyline points="244.9,333.9 286.0,356.1 337.6,327.3" fill="none" stroke="#6399b8" stroke-width="1"/>
<line x1="286.0" y1="356.1" x2="286.0" y2="406.8" stroke="#6399b8" stroke-width="1"/>
<polygon points="245.0,384.6 286.0,406.8 337.6,378.2 337.6,327.3 296.9,305.0 244.9,333.9" fill="none" stroke="#1d3e52" stroke-width="1.90" stroke-linejoin="round"/>
<polygon points="347.1,327.6 387.7,349.9 438.8,321.3 398.6,298.8" fill="#bee3f3"/>
<polygon points="347.1,378.5 387.7,400.8 387.7,349.9 347.1,327.6" fill="#9cd1eb"/>
<polygon points="387.7,400.8 438.8,372.5 438.8,321.3 387.7,349.9" fill="#a8d2e6"/>
<polyline points="347.1,327.6 387.7,349.9 438.8,321.3" fill="none" stroke="#6399b8" stroke-width="1"/>
<line x1="387.7" y1="349.9" x2="387.7" y2="400.8" stroke="#6399b8" stroke-width="1"/>
<polygon points="347.1,378.5 387.7,400.8 438.8,372.5 438.8,321.3 398.6,298.8 347.1,327.6" fill="none" stroke="#1d3e52" stroke-width="1.90" stroke-linejoin="round"/>
<polygon points="448.2,321.6 488.4,344.1 539.0,315.6 499.3,293.0" fill="#bee3f3"/>
<polygon points="448.2,372.8 488.4,395.4 488.4,344.1 448.2,321.6" fill="#9cd1eb"/>
<polygon points="488.4,395.4 539.0,367.2 539.0,315.6 488.4,344.1" fill="#80bfdf"/>
<polyline points="448.2,321.6 488.4,344.1 539.0,315.6" fill="none" stroke="#6399b8" stroke-width="1"/>
<line x1="488.4" y1="344.1" x2="488.4" y2="395.4" stroke="#6399b8" stroke-width="1"/>
<polygon points="448.2,372.8 488.4,395.4 539.0,367.2 539.0,315.6 499.3,293.0 448.2,321.6" fill="none" stroke="#1d3e52" stroke-width="1.90" stroke-linejoin="round"/>
<polygon points="198.8,253.1 239.8,275.4 291.9,246.3 251.2,223.9" fill="#bee3f3"/>
<polygon points="198.8,303.9 239.8,326.1 239.8,275.4 198.8,253.1" fill="#9cd1eb"/>
<polygon points="239.8,326.1 291.9,297.2 291.9,246.3 239.8,275.4" fill="#a8d2e6"/>
<polyline points="198.8,253.1 239.8,275.4 291.9,246.3" fill="none" stroke="#6399b8" stroke-width="1"/>
<line x1="239.8" y1="275.4" x2="239.8" y2="326.1" stroke="#6399b8" stroke-width="1"/>
<polygon points="198.8,303.9 239.8,326.1 291.9,297.2 291.9,246.3 251.2,223.9 198.8,253.1" fill="none" stroke="#1d3e52" stroke-width="1.90" stroke-linejoin="round"/>
<polygon points="301.4,246.5 342.0,268.9 393.6,239.8 353.4,217.4" fill="#bee3f3"/>
<polygon points="301.4,297.4 342.0,319.8 342.0,268.9 301.4,246.5" fill="#9cd1eb"/>
<polygon points="342.0,319.8 393.6,291.0 393.6,239.8 342.0,268.9" fill="#a8d2e6"/>
<polyline points="301.4,246.5 342.0,268.9 393.6,239.8" fill="none" stroke="#6399b8" stroke-width="1"/>
<line x1="342.0" y1="268.9" x2="342.0" y2="319.8" stroke="#6399b8" stroke-width="1"/>
<polygon points="301.4,297.4 342.0,319.8 393.6,291.0 393.6,239.8 353.4,217.4 301.4,246.5" fill="none" stroke="#1d3e52" stroke-width="1.90" stroke-linejoin="round"/>
<polygon points="403.1,240.1 443.2,262.5 494.3,233.5 454.6,211.0" fill="#bee3f3"/>
<polygon points="403.1,291.3 443.2,313.7 443.2,262.5 403.1,240.1" fill="#9cd1eb"/>
<polygon points="443.2,313.7 494.3,285.1 494.3,233.5 443.2,262.5" fill="#a8d2e6"/>
<polyline points="403.1,240.1 443.2,262.5 494.3,233.5" fill="none" stroke="#6399b8" stroke-width="1"/>
<line x1="443.2" y1="262.5" x2="443.2" y2="313.7" stroke="#6399b8" stroke-width="1"/>
<polygon points="403.1,291.3 443.2,313.7 494.3,285.1 494.3,233.5 454.6,211.0 403.1,240.1" fill="none" stroke="#1d3e52" stroke-width="1.90" stroke-linejoin="round"/>
<polygon points="152.7,172.1 193.7,194.5 246.2,165.2 205.6,142.8" fill="#bee3f3"/>
<polygon points="152.7,223.0 193.7,245.3 193.7,194.5 152.7,172.1" fill="#9cd1eb"/>
<polygon points="193.7,245.3 246.2,216.1 246.2,165.2 193.7,194.5" fill="#a8d2e6"/>
<polyline points="152.7,172.1 193.7,194.5 246.2,165.2" fill="none" stroke="#6399b8" stroke-width="1"/>
<line x1="193.7" y1="194.5" x2="193.7" y2="245.3" stroke="#6399b8" stroke-width="1"/>
<polygon points="152.7,223.0 193.7,245.3 246.2,216.1 246.2,165.2 205.6,142.8 152.7,172.1" fill="none" stroke="#1d3e52" stroke-width="1.90" stroke-linejoin="round"/>
<polygon points="255.8,165.4 296.4,187.8 348.4,158.5 308.3,136.1" fill="#bee3f3"/>
<polygon points="255.8,216.4 296.4,238.7 296.4,187.8 255.8,165.4" fill="#9cd1eb"/>
<polygon points="296.4,238.7 348.5,209.6 348.4,158.5 296.4,187.8" fill="#a8d2e6"/>
<polyline points="255.8,165.4 296.4,187.8 348.4,158.5" fill="none" stroke="#6399b8" stroke-width="1"/>
<line x1="296.4" y1="187.8" x2="296.4" y2="238.7" stroke="#6399b8" stroke-width="1"/>
<polygon points="255.8,216.4 296.4,238.7 348.5,209.6 348.4,158.5 308.3,136.1 255.8,165.4" fill="none" stroke="#1d3e52" stroke-width="1.90" stroke-linejoin="round"/>
<polygon points="357.9,158.7 398.1,181.0 449.7,151.7 410.0,129.4" fill="#bee3f3"/>
<polygon points="357.9,209.8 398.1,232.2 398.1,181.0 357.9,158.7" fill="#9cd1eb"/>
<polygon points="398.1,232.2 449.7,203.2 449.7,151.7 398.1,181.0" fill="#a8d2e6"/>
<polyline points="357.9,158.7 398.1,181.0 449.7,151.7" fill="none" stroke="#6399b8" stroke-width="1"/>
<line x1="398.1" y1="181.0" x2="398.1" y2="232.2" stroke="#6399b8" stroke-width="1"/>
<polygon points="357.9,209.8 398.1,232.2 449.7,203.2 449.7,151.7 410.0,129.4 357.9,158.7" fill="none" stroke="#1d3e52" stroke-width="1.90" stroke-linejoin="round"/>
<polygon points="337.3,439.4 378.4,461.5 429.0,433.4 388.3,411.1" fill="#bee3f3"/>
<polygon points="337.4,489.9 378.5,512.0 378.4,461.5 337.3,439.4" fill="#9cd1eb"/>
<polygon points="378.5,512.0 429.1,484.3 429.0,433.4 378.4,461.5" fill="#80bfdf"/>
<polyline points="337.3,439.4 378.4,461.5 429.0,433.4" fill="none" stroke="#6399b8" stroke-width="1"/>
<line x1="378.4" y1="461.5" x2="378.5" y2="512.0" stroke="#6399b8" stroke-width="1"/>
<polygon points="337.4,489.9 378.5,512.0 429.1,484.3 429.0,433.4 388.3,411.1 337.3,439.4" fill="none" stroke="#1d3e52" stroke-width="1.90" stroke-linejoin="round"/>
<polygon points="291.1,358.8 332.1,381.0 383.2,352.4 342.6,330.1" fill="#bee3f3"/>
<polygon points="291.1,409.5 332.2,431.6 332.1,381.0 291.1,358.8" fill="#9cd1eb"/>
<polygon points="332.2,431.6 383.3,403.3 383.2,352.4 332.1,381.0" fill="#a8d2e6"/>
<polyline points="291.1,358.8 332.1,381.0 383.2,352.4" fill="none" stroke="#6399b8" stroke-width="1"/>
<line x1="332.1" y1="381.0" x2="332.2" y2="431.6" stroke="#6399b8" stroke-width="1"/>
<polygon points="291.1,409.5 332.2,431.6 383.3,403.3 383.2,352.4 342.6,330.1 291.1,358.8" fill="none" stroke="#1d3e52" stroke-width="1.90" stroke-linejoin="round"/>
<polygon points="392.7,352.7 433.3,375.0 484.0,346.5 443.8,324.1" fill="#bee3f3"/>
<polygon points="392.8,403.6 433.4,425.9 433.3,375.0 392.7,352.7" fill="#9cd1eb"/>
<polygon points="433.4,425.9 484.0,397.8 484.0,346.5 433.3,375.0" fill="#80bfdf"/>
<polyline points="392.7,352.7 433.3,375.0 484.0,346.5" fill="none" stroke="#6399b8" stroke-width="1"/>
<line x1="433.3" y1="375.0" x2="433.4" y2="425.9" stroke="#6399b8" stroke-width="1"/>
<polygon points="392.8,403.6 433.4,425.9 484.0,397.8 484.0,346.5 443.8,324.1 392.7,352.7" fill="none" stroke="#1d3e52" stroke-width="1.90" stroke-linejoin="round"/>
<polygon points="244.9,278.1 285.9,300.4 337.5,271.4 296.9,249.0" fill="#bee3f3"/>
<polygon points="244.9,328.9 286.0,351.1 285.9,300.4 244.9,278.1" fill="#9cd1eb"/>
<polygon points="286.0,351.1 337.6,322.3 337.5,271.4 285.9,300.4" fill="#a8d2e6"/>
<polyline points="244.9,278.1 285.9,300.4 337.5,271.4" fill="none" stroke="#6399b8" stroke-width="1"/>
<line x1="285.9" y1="300.4" x2="286.0" y2="351.1" stroke="#6399b8" stroke-width="1"/>
<polygon points="244.9,328.9 286.0,351.1 337.6,322.3 337.5,271.4 296.9,249.0 244.9,278.1" fill="none" stroke="#1d3e52" stroke-width="1.90" stroke-linejoin="round"/>
<polygon points="347.0,271.6 387.6,294.0 438.8,265.0 398.6,242.6" fill="#bee3f3"/>
<polygon points="347.1,322.5 387.7,344.9 387.6,294.0 347.0,271.6" fill="#9cd1eb"/>
<polygon points="387.7,344.9 438.8,316.2 438.8,265.0 387.6,294.0" fill="#a8d2e6"/>
<polyline points="347.0,271.6 387.6,294.0 438.8,265.0" fill="none" stroke="#6399b8" stroke-width="1"/>
<line x1="387.6" y1="294.0" x2="387.7" y2="344.9" stroke="#6399b8" stroke-width="1"/>
<polygon points="347.1,322.5 387.7,344.9 438.8,316.2 438.8,265.0 398.6,242.6 347.0,271.6" fill="none" stroke="#1d3e52" stroke-width="1.90" stroke-linejoin="round"/>
<polygon points="448.2,265.3 488.3,287.7 539.0,258.8 499.3,236.3" fill="#bee3f3"/>
<polygon points="448.2,316.5 488.4,339.0 488.3,287.7 448.2,265.3" fill="#9cd1eb"/>
<polygon points="488.4,339.0 539.0,310.4 539.0,258.8 488.3,287.7" fill="#80bfdf"/>
<polyline points="448.2,265.3 488.3,287.7 539.0,258.8" fill="none" stroke="#6399b8" stroke-width="1"/>
<line x1="488.3" y1="287.7" x2="488.4" y2="339.0" stroke="#6399b8" stroke-width="1"/>
<polygon points="448.2,316.5 488.4,339.0 539.0,310.4 539.0,258.8 499.3,236.3 448.2,265.3" fill="none" stroke="#1d3e52" stroke-width="1.90" stroke-linejoin="round"/>
<polygon points="198.8,197.3 239.8,219.6 291.8,190.3 251.2,168.0" fill="#bee3f3"/>
<polygon points="198.8,248.1 239.8,270.4 239.8,219.6 198.8,197.3" fill="#9cd1eb"/>
<polygon points="239.8,270.4 291.9,241.2 291.8,190.3 239.8,219.6" fill="#a8d2e6"/>
<polyline points="198.8,197.3 239.8,219.6 291.8,190.3" fill="none" stroke="#6399b8" stroke-width="1"/>
<line x1="239.8" y1="219.6" x2="239.8" y2="270.4" stroke="#6399b8" stroke-width="1"/>
<polygon points="198.8,248.1 239.8,270.4 291.9,241.2 291.8,190.3 251.2,168.0 198.8,197.3" fill="none" stroke="#1d3e52" stroke-width="1.90" stroke-linejoin="round"/>
<polygon points="301.4,190.5 342.0,212.9 393.6,183.6 353.4,161.2" fill="#bee3f3"/>
<polygon points="301.4,241.5 342.0,263.8 342.0,212.9 301.4,190.5" fill="#9cd1eb"/>
<polygon points="342.0,263.8 393.6,234.8 393.6,183.6 342.0,212.9" fill="#a8d2e6"/>
<polyline points="301.4,190.5 342.0,212.9 393.6,183.6" fill="none" stroke="#6399b8" stroke-width="1"/>
<line x1="342.0" y1="212.9" x2="342.0" y2="263.8" stroke="#6399b8" stroke-width="1"/>
<polygon points="301.4,241.5 342.0,263.8 393.6,234.8 393.6,183.6 353.4,161.2 301.4,190.5" fill="none" stroke="#1d3e52" stroke-width="1.90" stroke-linejoin="round"/>
<polygon points="403.0,183.8 443.2,206.2 494.3,176.9 454.6,154.5" fill="#bee3f3"/>
<polygon points="403.1,235.0 443.2,257.4 443.2,206.2 403.0,183.8" fill="#9cd1eb"/>
<polygon points="443.2,257.4 494.3,228.4 494.3,176.9 443.2,206.2" fill="#a8d2e6"/>
<polyline points="403.0,183.8 443.2,206.2 494.3,176.9" fill="none" stroke="#6399b8" stroke-width="1"/>
<line x1="443.2" y1="206.2" x2="443.2" y2="257.4" stroke="#6399b8" stroke-width="1"/>
<polygon points="403.1,235.0 443.2,257.4 494.3,228.4 494.3,176.9 454.6,154.5 403.0,183.8" fill="none" stroke="#1d3e52" stroke-width="1.90" stroke-linejoin="round"/>
<polygon points="337.2,383.8 378.3,406.0 428.9,377.5 388.3,355.2" fill="#bee3f3"/>
<polygon points="337.3,434.4 378.4,456.5 378.3,406.0 337.2,383.8" fill="#9cd1eb"/>
<polygon points="378.4,456.5 429.0,428.4 428.9,377.5 378.3,406.0" fill="#80bfdf"/>
<polyline points="337.2,383.8 378.3,406.0 428.9,377.5" fill="none" stroke="#6399b8" stroke-width="1"/>
<line x1="378.3" y1="406.0" x2="378.4" y2="456.5" stroke="#6399b8" stroke-width="1"/>
<polygon points="337.3,434.4 378.4,456.5 429.0,428.4 428.9,377.5 388.3,355.2 337.2,383.8" fill="none" stroke="#1d3e52" stroke-width="1.90" stroke-linejoin="round"/>
<polygon points="291.0,303.2 332.0,325.5 383.2,296.5 342.5,274.1" fill="#bee3f3"/>
<polygon points="291.0,353.8 332.1,376.0 332.0,325.5 291.0,303.2" fill="#9cd1eb"/>
<polygon points="332.1,376.0 383.2,347.4 383.2,296.5 332.0,325.5" fill="#a8d2e6"/>
<polyline points="291.0,303.2 332.0,325.5 383.2,296.5" fill="none" stroke="#6399b8" stroke-width="1"/>
<line x1="332.0" y1="325.5" x2="332.1" y2="376.0" stroke="#6399b8" stroke-width="1"/>
<polygon points="291.0,353.8 332.1,376.0 383.2,347.4 383.2,296.5 342.5,274.1 291.0,303.2" fill="none" stroke="#1d3e52" stroke-width="1.90" stroke-linejoin="round"/>
<polygon points="392.6,296.7 433.2,319.1 483.9,290.2 443.7,267.8" fill="#bee3f3"/>
<polygon points="392.7,347.6 433.3,370.0 433.2,319.1 392.6,296.7" fill="#9cd1eb"/>
<polygon points="433.3,370.0 483.9,341.5 483.9,290.2 433.2,319.1" fill="#80bfdf"/>
<polyline points="392.6,296.7 433.2,319.1 483.9,290.2" fill="none" stroke="#6399b8" stroke-width="1"/>
<line x1="433.2" y1="319.1" x2="433.3" y2="370.0" stroke="#6399b8" stroke-width="1"/>
<polygon points="392.7,347.6 433.3,370.0 483.9,341.5 483.9,290.2 443.7,267.8 392.6,296.7" fill="none" stroke="#1d3e52" stroke-width="1.90" stroke-linejoin="round"/>
<polygon points="244.8,222.4 285.8,244.7 337.5,215.4 296.9,193.1" fill="#bee3f3"/>
<polygon points="244.9,273.1 285.9,295.4 285.8,244.7 244.8,222.4" fill="#9cd1eb"/>
<polygon points="285.9,295.4 337.5,266.3 337.5,215.4 285.8,244.7" fill="#a8d2e6"/>
<polyline points="244.8,222.4 285.8,244.7 337.5,215.4" fill="none" stroke="#6399b8" stroke-width="1"/>
<line x1="285.8" y1="244.7" x2="285.9" y2="295.4" stroke="#6399b8" stroke-width="1"/>
<polygon points="244.9,273.1 285.9,295.4 337.5,266.3 337.5,215.4 296.9,193.1 244.8,222.4" fill="none" stroke="#1d3e52" stroke-width="1.90" stroke-linejoin="round"/>
<polygon points="347.0,215.7 387.5,238.0 438.7,208.7 398.5,186.4" fill="#bee3f3"/>
<polygon points="347.0,266.6 387.6,288.9 387.5,238.0 347.0,215.7" fill="#9cd1eb"/>
<polygon points="387.6,288.9 438.8,259.9 438.7,208.7 387.5,238.0" fill="#a8d2e6"/>
<polyline points="347.0,215.7 387.5,238.0 438.7,208.7" fill="none" stroke="#6399b8" stroke-width="1"/>
<line x1="387.5" y1="238.0" x2="387.6" y2="288.9" stroke="#6399b8" stroke-width="1"/>
<polygon points="347.0,266.6 387.6,288.9 438.8,259.9 438.7,208.7 398.5,186.4 347.0,215.7" fill="none" stroke="#1d3e52" stroke-width="1.90" stroke-linejoin="round"/>
<polygon points="448.1,208.9 488.3,231.3 539.0,202.0 499.3,179.6" fill="#bee3f3"/>
<polygon points="448.2,260.2 488.3,282.6 488.3,231.3 448.1,208.9" fill="#9cd1eb"/>
<polygon points="488.3,282.6 539.0,253.7 539.0,202.0 488.3,231.3" fill="#80bfdf"/>
<polyline points="448.1,208.9 488.3,231.3 539.0,202.0" fill="none" stroke="#6399b8" stroke-width="1"/>
<line x1="488.3" y1="231.3" x2="488.3" y2="282.6" stroke="#6399b8" stroke-width="1"/>
<polygon points="448.2,260.2 488.3,282.6 539.0,253.7 539.0,202.0 499.3,179.6 448.1,208.9" fill="none" stroke="#1d3e52" stroke-width="1.90" stroke-linejoin="round"/>
<polygon points="337.1,328.2 378.1,350.5 428.8,321.6 388.2,299.3" fill="#bee3f3"/>
<polygon points="337.2,378.8 378.2,401.0 378.1,350.5 337.1,328.2" fill="#9cd1eb"/>
<polygon points="378.2,401.0 428.9,372.5 428.8,321.6 378.1,350.5" fill="#80bfdf"/>
<polyline points="337.1,328.2 378.1,350.5 428.8,321.6" fill="none" stroke="#6399b8" stroke-width="1"/>
<line x1="378.1" y1="350.5" x2="378.2" y2="401.0" stroke="#6399b8" stroke-width="1"/>
<polygon points="337.2,378.8 378.2,401.0 428.9,372.5 428.8,321.6 388.2,299.3 337.1,328.2" fill="none" stroke="#1d3e52" stroke-width="1.90" stroke-linejoin="round"/>
<polygon points="290.9,247.5 331.9,269.9 383.1,240.6 342.5,218.2" fill="#bee3f3"/>
<polygon points="291.0,298.2 332.0,320.5 331.9,269.9 290.9,247.5" fill="#9cd1eb"/>
<polygon points="332.0,320.5 383.2,291.5 383.1,240.6 331.9,269.9" fill="#a8d2e6"/>
<polyline points="290.9,247.5 331.9,269.9 383.1,240.6" fill="none" stroke="#6399b8" stroke-width="1"/>
<line x1="331.9" y1="269.9" x2="332.0" y2="320.5" stroke="#6399b8" stroke-width="1"/>
<polygon points="291.0,298.2 332.0,320.5 383.2,291.5 383.1,240.6 342.5,218.2 290.9,247.5" fill="none" stroke="#1d3e52" stroke-width="1.90" stroke-linejoin="round"/>
<polygon points="392.6,240.8 433.1,263.2 483.9,233.8 443.7,211.5" fill="#bee3f3"/>
<polygon points="392.6,291.7 433.2,314.1 433.1,263.2 392.6,240.8" fill="#9cd1eb"/>
<polygon points="433.2,314.1 483.9,285.1 483.9,233.8 433.1,263.2" fill="#80bfdf"/>
<polyline points="392.6,240.8 433.1,263.2 483.9,233.8" fill="none" stroke="#6399b8" stroke-width="1"/>
<line x1="433.1" y1="263.2" x2="433.2" y2="314.1" stroke="#6399b8" stroke-width="1"/>
<polygon points="392.6,291.7 433.2,314.1 483.9,285.1 483.9,233.8 443.7,211.5 392.6,240.8" fill="none" stroke="#1d3e52" stroke-width="1.90" stroke-linejoin="round"/>
<polygon points="337.0,272.6 378.0,295.0 428.7,265.7 388.1,243.3" fill="#bee3f3"/>
<polygon points="337.1,323.2 378.1,345.5 378.0,295.0 337.0,272.6" fill="#9cd1eb"/>
<polygon points="378.1,345.5 428.8,316.6 428.7,265.7 378.0,295.0" fill="#80bfdf"/>
<polyline points="337.0,272.6 378.0,295.0 428.7,265.7" fill="none" stroke="#6399b8" stroke-width="1"/>
<line x1="378.0" y1="295.0" x2="378.1" y2="345.5" stroke="#6399b8" stroke-width="1"/>
<polygon points="337.1,323.2 378.1,345.5 428.8,316.6 428.7,265.7 388.1,243.3 337.0,272.6" fill="none" stroke="#1d3e52" stroke-width="1.90" stroke-linejoin="round"/>
<line x1="106.1" y1="383.7" x2="362.5" y2="522.9" stroke="#2c3e50" stroke-width="2.8"/><polygon points="95.6,378.0 112.1,379.0 105.4,391.3" fill="#2c3e50"/><polygon points="373.0,528.6 356.5,527.6 363.2,515.3" fill="#2c3e50"/>
<line x1="398.4" y1="524.1" x2="540.0" y2="443.4" stroke="#2c3e50" stroke-width="2.8"/><polygon points="388.0,530.0 397.6,516.5 404.5,528.7" fill="#2c3e50"/><polygon points="550.4,437.5 540.8,451.0 533.9,438.8" fill="#2c3e50"/>
<line x1="553.9" y1="212.3" x2="553.9" y2="413.8" stroke="#2c3e50" stroke-width="2.8"/><polygon points="553.9,200.3 560.9,215.3 546.9,215.3" fill="#2c3e50"/><polygon points="553.9,425.8 546.9,410.8 560.9,410.8" fill="#2c3e50"/>
<g transform="translate(224,477.5) rotate(28.0)"><rect x="-81.5" y="-14.75" width="163" height="29.5" rx="8" fill="#fefefc"/><text x="0" y="9.0" font-size="25" text-anchor="middle" fill="#111" textLength="151" lengthAdjust="spacingAndGlyphs" stroke="#111" stroke-width="0.5">length = 5 units</text></g>
<g transform="translate(483.5,506.5) rotate(-29.2)"><rect x="-78.5" y="-14.25" width="157" height="28.5" rx="8" fill="#fefefc"/><text x="0" y="9.0" font-size="25" text-anchor="middle" fill="#111" textLength="139" lengthAdjust="spacingAndGlyphs" stroke="#111" stroke-width="0.5">width = 3 units</text></g>
<g transform="translate(578.5,308.4) rotate(-90)"><rect x="-83.75" y="-16.3" width="167.5" height="32.6" rx="8" fill="#fefefc"/><text x="0" y="9.0" font-size="25" text-anchor="middle" fill="#111" textLength="151" lengthAdjust="spacingAndGlyphs" stroke="#111" stroke-width="0.5">height = 4 units</text></g>
<polygon points="710,479 905.6,592 1022,518 1008.75,516 905.6,578.75 721,474" fill="#c0bab1"/>
<polygon points="793.5,392.9 827.1,412.1 859.6,393.2 826.0,374.0" fill="#fcd5a8"/>
<polygon points="793.4,432.6 827.1,451.9 827.1,412.1 793.5,392.9" fill="#f9c48d"/>
<polygon points="827.1,451.9 859.6,433.3 859.6,393.2 827.1,412.1" fill="#f9cc9c"/>
<polyline points="793.5,392.9 827.1,412.1 859.6,393.2" fill="none" stroke="#dc9a58" stroke-width="1"/>
<line x1="827.1" y1="412.1" x2="827.1" y2="451.9" stroke="#dc9a58" stroke-width="1"/>
<polygon points="793.4,432.6 827.1,451.9 859.6,433.3 859.6,393.2 826.0,374.0 793.5,392.9" fill="none" stroke="#cf853c" stroke-width="1.60" stroke-linejoin="round"/>
<polygon points="757.4,414.0 791.1,433.0 823.5,414.2 789.9,395.0" fill="#fcd5a8"/>
<polygon points="757.2,453.3 791.0,472.6 791.1,433.0 757.4,414.0" fill="#f9c48d"/>
<polygon points="791.0,472.6 823.5,454.0 823.5,414.2 791.1,433.0" fill="#f9cc9c"/>
<polyline points="757.4,414.0 791.1,433.0 823.5,414.2" fill="none" stroke="#dc9a58" stroke-width="1"/>
<line x1="791.1" y1="433.0" x2="791.0" y2="472.6" stroke="#dc9a58" stroke-width="1"/>
<polygon points="757.2,453.3 791.0,472.6 823.5,454.0 823.5,414.2 789.9,395.0 757.4,414.0" fill="none" stroke="#cf853c" stroke-width="1.60" stroke-linejoin="round"/>
<polygon points="830.9,414.2 864.5,433.3 896.9,414.6 863.3,395.4" fill="#fcd5a8"/>
<polygon points="830.8,454.0 864.5,473.3 864.5,433.3 830.9,414.2" fill="#f9c48d"/>
<polygon points="864.5,473.3 896.9,454.7 896.9,414.6 864.5,433.3" fill="#f9cc9c"/>
<polyline points="830.9,414.2 864.5,433.3 896.9,414.6" fill="none" stroke="#dc9a58" stroke-width="1"/>
<line x1="864.5" y1="433.3" x2="864.5" y2="473.3" stroke="#dc9a58" stroke-width="1"/>
<polygon points="830.8,454.0 864.5,473.3 896.9,454.7 896.9,414.6 863.3,395.4 830.9,414.2" fill="none" stroke="#cf853c" stroke-width="1.60" stroke-linejoin="round"/>
<polygon points="721.2,435.0 755.0,453.9 787.5,435.1 753.8,416.1" fill="#fcd5a8"/>
<polygon points="721.0,474.0 754.9,493.2 755.0,453.9 721.2,435.0" fill="#f9c48d"/>
<polygon points="754.9,493.2 787.4,474.6 787.5,435.1 755.0,453.9" fill="#f9cc9c"/>
<polyline points="721.2,435.0 755.0,453.9 787.5,435.1" fill="none" stroke="#dc9a58" stroke-width="1"/>
<line x1="755.0" y1="453.9" x2="754.9" y2="493.2" stroke="#dc9a58" stroke-width="1"/>
<polygon points="721.0,474.0 754.9,493.2 787.4,474.6 787.5,435.1 753.8,416.1 721.2,435.0" fill="none" stroke="#cf853c" stroke-width="1.60" stroke-linejoin="round"/>
<polygon points="794.8,435.1 828.5,454.1 860.9,435.4 827.2,416.3" fill="#fcd5a8"/>
<polygon points="794.8,474.7 828.5,494.0 828.5,454.1 794.8,435.1" fill="#f9c48d"/>
<polygon points="828.5,494.0 860.9,475.4 860.9,435.4 828.5,454.1" fill="#f9cc9c"/>
<polyline points="794.8,435.1 828.5,454.1 860.9,435.4" fill="none" stroke="#dc9a58" stroke-width="1"/>
<line x1="828.5" y1="454.1" x2="828.5" y2="494.0" stroke="#dc9a58" stroke-width="1"/>
<polygon points="794.8,474.7 828.5,494.0 860.9,475.4 860.9,435.4 827.2,416.3 794.8,435.1" fill="none" stroke="#cf853c" stroke-width="1.60" stroke-linejoin="round"/>
<polygon points="868.2,435.5 901.8,454.6 934.2,436.0 900.6,416.8" fill="#fcd5a8"/>
<polygon points="868.2,475.4 901.9,494.7 901.8,454.6 868.2,435.5" fill="#f9c48d"/>
<polygon points="901.9,494.7 934.2,476.1 934.2,436.0 901.8,454.6" fill="#f9cc9c"/>
<polyline points="868.2,435.5 901.8,454.6 934.2,436.0" fill="none" stroke="#dc9a58" stroke-width="1"/>
<line x1="901.8" y1="454.6" x2="901.9" y2="494.7" stroke="#dc9a58" stroke-width="1"/>
<polygon points="868.2,475.4 901.9,494.7 934.2,476.1 934.2,436.0 900.6,416.8 868.2,435.5" fill="none" stroke="#cf853c" stroke-width="1.60" stroke-linejoin="round"/>
<polygon points="758.8,456.0 792.5,474.9 824.9,456.2 791.2,437.2" fill="#fcd5a8"/>
<polygon points="758.7,495.4 792.6,514.6 792.5,474.9 758.8,456.0" fill="#f9c48d"/>
<polygon points="792.6,514.6 824.9,496.0 824.9,456.2 792.5,474.9" fill="#f9cc9c"/>
<polyline points="758.8,456.0 792.5,474.9 824.9,456.2" fill="none" stroke="#dc9a58" stroke-width="1"/>
<line x1="792.5" y1="474.9" x2="792.6" y2="514.6" stroke="#dc9a58" stroke-width="1"/>
<polygon points="758.7,495.4 792.6,514.6 824.9,496.0 824.9,456.2 791.2,437.2 758.8,456.0" fill="none" stroke="#cf853c" stroke-width="1.60" stroke-linejoin="round"/>
<polygon points="832.2,456.3 865.9,475.3 898.2,456.7 864.6,437.5" fill="#fcd5a8"/>
<polygon points="832.3,496.1 866.1,515.4 865.9,475.3 832.2,456.3" fill="#f9c48d"/>
<polygon points="866.1,515.4 898.3,496.8 898.2,456.7 865.9,475.3" fill="#f9cc9c"/>
<polyline points="832.2,456.3 865.9,475.3 898.2,456.7" fill="none" stroke="#dc9a58" stroke-width="1"/>
<line x1="865.9" y1="475.3" x2="866.1" y2="515.4" stroke="#dc9a58" stroke-width="1"/>
<polygon points="832.3,496.1 866.1,515.4 898.3,496.8 898.2,456.7 864.6,437.5 832.2,456.3" fill="none" stroke="#cf853c" stroke-width="1.60" stroke-linejoin="round"/>
<polygon points="905.6,456.7 939.2,475.9 971.5,457.4 937.9,438.1" fill="#fcd5a8"/>
<polygon points="905.7,496.9 939.3,516.1 939.2,475.9 905.6,456.7" fill="#f9c48d"/>
<polygon points="939.3,516.1 971.5,497.6 971.5,457.4 939.2,475.9" fill="#f9cc9c"/>
<polyline points="905.6,456.7 939.2,475.9 971.5,457.4" fill="none" stroke="#dc9a58" stroke-width="1"/>
<line x1="939.2" y1="475.9" x2="939.3" y2="516.1" stroke="#dc9a58" stroke-width="1"/>
<polygon points="905.7,496.9 939.3,516.1 971.5,497.6 971.5,457.4 937.9,438.1 905.6,456.7" fill="none" stroke="#cf853c" stroke-width="1.60" stroke-linejoin="round"/>
<polygon points="796.2,477.0 830.0,496.0 862.3,477.3 828.6,458.3" fill="#fcd5a8"/>
<polygon points="796.3,516.8 830.3,536.0 830.0,496.0 796.2,477.0" fill="#f9c48d"/>
<polygon points="830.3,536.0 862.5,517.4 862.3,477.3 830.0,496.0" fill="#f9cc9c"/>
<polyline points="796.2,477.0 830.0,496.0 862.3,477.3" fill="none" stroke="#dc9a58" stroke-width="1"/>
<line x1="830.0" y1="496.0" x2="830.3" y2="536.0" stroke="#dc9a58" stroke-width="1"/>
<polygon points="796.3,516.8 830.3,536.0 862.5,517.4 862.3,477.3 828.6,458.3 796.2,477.0" fill="none" stroke="#cf853c" stroke-width="1.60" stroke-linejoin="round"/>
<polygon points="869.7,477.4 903.3,496.4 935.6,477.9 902.0,458.8" fill="#fcd5a8"/>
<polygon points="869.8,517.5 903.6,536.8 903.3,496.4 869.7,477.4" fill="#f9c48d"/>
<polygon points="903.6,536.8 935.8,518.2 935.6,477.9 903.3,496.4" fill="#f9cc9c"/>
<polyline points="869.7,477.4 903.3,496.4 935.6,477.9" fill="none" stroke="#dc9a58" stroke-width="1"/>
<line x1="903.3" y1="496.4" x2="903.6" y2="536.8" stroke="#dc9a58" stroke-width="1"/>
<polygon points="869.8,517.5 903.6,536.8 935.8,518.2 935.6,477.9 902.0,458.8 869.7,477.4" fill="none" stroke="#cf853c" stroke-width="1.60" stroke-linejoin="round"/>
<polygon points="942.9,478.0 976.6,497.1 1008.8,478.8 975.2,459.5" fill="#fcd5a8"/>
<polygon points="943.1,518.3 976.7,537.5 976.6,497.1 942.9,478.0" fill="#f9c48d"/>
<polygon points="976.7,537.5 1008.8,519.0 1008.8,478.8 976.6,497.1" fill="#f4b574"/>
<polyline points="942.9,478.0 976.6,497.1 1008.8,478.8" fill="none" stroke="#dc9a58" stroke-width="1"/>
<line x1="976.6" y1="497.1" x2="976.7" y2="537.5" stroke="#dc9a58" stroke-width="1"/>
<polygon points="943.1,518.3 976.7,537.5 1008.8,519.0 1008.8,478.8 975.2,459.5 942.9,478.0" fill="none" stroke="#cf853c" stroke-width="1.60" stroke-linejoin="round"/>
<polygon points="833.8,498.1 867.5,517.0 899.8,498.5 866.1,479.5" fill="#fcd5a8"/>
<polygon points="834.0,538.1 867.9,557.4 867.5,517.0 833.8,498.1" fill="#f9c48d"/>
<polygon points="867.9,557.4 900.1,538.8 899.8,498.5 867.5,517.0" fill="#f9cc9c"/>
<polyline points="833.8,498.1 867.5,517.0 899.8,498.5" fill="none" stroke="#dc9a58" stroke-width="1"/>
<line x1="867.5" y1="517.0" x2="867.9" y2="557.4" stroke="#dc9a58" stroke-width="1"/>
<polygon points="834.0,538.1 867.9,557.4 900.1,538.8 899.8,498.5 866.1,479.5 833.8,498.1" fill="none" stroke="#cf853c" stroke-width="1.60" stroke-linejoin="round"/>
<polygon points="907.1,498.5 940.8,517.6 973.0,499.2 939.3,480.1" fill="#fcd5a8"/>
<polygon points="907.4,538.9 941.2,558.1 940.8,517.6 907.1,498.5" fill="#f9c48d"/>
<polygon points="941.2,558.1 973.2,539.6 973.0,499.2 940.8,517.6" fill="#f4b574"/>
<polyline points="907.1,498.5 940.8,517.6 973.0,499.2" fill="none" stroke="#dc9a58" stroke-width="1"/>
<line x1="940.8" y1="517.6" x2="941.2" y2="558.1" stroke="#dc9a58" stroke-width="1"/>
<polygon points="907.4,538.9 941.2,558.1 973.2,539.6 973.0,499.2 939.3,480.1 907.1,498.5" fill="none" stroke="#cf853c" stroke-width="1.60" stroke-linejoin="round"/>
<polygon points="871.2,519.1 905.0,538.0 937.2,519.6 903.5,500.6" fill="#fcd5a8"/>
<polygon points="871.7,559.5 905.6,578.8 905.0,538.0 871.2,519.1" fill="#f9c48d"/>
<polygon points="905.6,578.8 937.6,560.2 937.2,519.6 905.0,538.0" fill="#f4b574"/>
<polyline points="871.2,519.1 905.0,538.0 937.2,519.6" fill="none" stroke="#dc9a58" stroke-width="1"/>
<line x1="905.0" y1="538.0" x2="905.6" y2="578.8" stroke="#dc9a58" stroke-width="1"/>
<polygon points="871.7,559.5 905.6,578.8 937.6,560.2 937.2,519.6 903.5,500.6 871.2,519.1" fill="none" stroke="#cf853c" stroke-width="1.60" stroke-linejoin="round"/>
<polygon points="872,337 1066.5,456 1214,365 1198.6,360 1066.5,443 883,342" fill="#c0bab1"/>
<polygon points="990.7,239.6 1017.3,254.6 1049.3,236.1 1023.0,221.2" fill="#fcd5a8"/>
<polygon points="990.7,280.5 1017.2,295.6 1017.3,254.6 990.7,239.6" fill="#f9c48d"/>
<polygon points="1017.2,295.6 1049.3,277.1 1049.3,236.1 1017.3,254.6" fill="#f9cc9c"/>
<polyline points="990.7,239.6 1017.3,254.6 1049.3,236.1" fill="none" stroke="#dc9a58" stroke-width="1"/>
<line x1="1017.3" y1="254.6" x2="1017.2" y2="295.6" stroke="#dc9a58" stroke-width="1"/>
<polygon points="990.7,280.5 1017.2,295.6 1049.3,277.1 1049.3,236.1 1023.0,221.2 990.7,239.6" fill="none" stroke="#cf853c" stroke-width="1.36" stroke-linejoin="round"/>
<polygon points="954.8,260.1 981.7,275.1 1013.7,256.6 987.1,241.7" fill="#fcd5a8"/>
<polygon points="954.8,301.0 981.7,316.1 981.7,275.1 954.8,260.1" fill="#f9c48d"/>
<polygon points="981.7,316.1 1013.7,297.6 1013.7,256.6 981.7,275.1" fill="#f9cc9c"/>
<polyline points="954.8,260.1 981.7,275.1 1013.7,256.6" fill="none" stroke="#dc9a58" stroke-width="1"/>
<line x1="981.7" y1="275.1" x2="981.7" y2="316.1" stroke="#dc9a58" stroke-width="1"/>
<polygon points="954.8,301.0 981.7,316.1 1013.7,297.6 1013.7,256.6 987.1,241.7 954.8,260.1" fill="none" stroke="#cf853c" stroke-width="1.36" stroke-linejoin="round"/>
<polygon points="1020.9,256.6 1047.4,271.6 1079.1,253.1 1052.8,238.1" fill="#fcd5a8"/>
<polygon points="1020.9,297.6 1047.4,312.7 1047.4,271.6 1020.9,256.6" fill="#f9c48d"/>
<polygon points="1047.4,312.7 1079.1,294.2 1079.1,253.1 1047.4,271.6" fill="#f9cc9c"/>
<polyline points="1020.9,256.6 1047.4,271.6 1079.1,253.1" fill="none" stroke="#dc9a58" stroke-width="1"/>
<line x1="1047.4" y1="271.6" x2="1047.4" y2="312.7" stroke="#dc9a58" stroke-width="1"/>
<polygon points="1020.9,297.6 1047.4,312.7 1079.1,294.2 1079.1,253.1 1052.8,238.1 1020.9,256.6" fill="none" stroke="#cf853c" stroke-width="1.36" stroke-linejoin="round"/>
<polygon points="990.7,191.6 1017.3,206.4 1049.2,187.9 1023.0,173.1" fill="#bee3f3"/>
<polygon points="990.7,232.4 1017.3,247.4 1017.3,206.4 990.7,191.6" fill="#9cd1eb"/>
<polygon points="1017.3,247.4 1049.3,228.9 1049.2,187.9 1017.3,206.4" fill="#a8d2e6"/>
<polyline points="990.7,191.6 1017.3,206.4 1049.2,187.9" fill="none" stroke="#6399b8" stroke-width="1"/>
<line x1="1017.3" y1="206.4" x2="1017.3" y2="247.4" stroke="#6399b8" stroke-width="1"/>
<polygon points="990.7,232.4 1017.3,247.4 1049.3,228.9 1049.2,187.9 1023.0,173.1 990.7,191.6" fill="none" stroke="#1d3e52" stroke-width="1.61" stroke-linejoin="round"/>
<polygon points="919.0,280.6 946.1,295.7 978.1,277.2 951.3,262.2" fill="#fcd5a8"/>
<polygon points="918.9,321.5 946.1,336.6 946.1,295.7 919.0,280.6" fill="#f9c48d"/>
<polygon points="946.1,336.6 978.1,318.1 978.1,277.2 946.1,295.7" fill="#f9cc9c"/>
<polyline points="919.0,280.6 946.1,295.7 978.1,277.2" fill="none" stroke="#dc9a58" stroke-width="1"/>
<line x1="946.1" y1="295.7" x2="946.1" y2="336.6" stroke="#dc9a58" stroke-width="1"/>
<polygon points="918.9,321.5 946.1,336.6 978.1,318.1 978.1,277.2 951.3,262.2 919.0,280.6" fill="none" stroke="#cf853c" stroke-width="1.36" stroke-linejoin="round"/>
<polygon points="985.3,277.2 1012.2,292.2 1043.9,273.7 1017.3,258.7" fill="#fcd5a8"/>
<polygon points="985.3,318.1 1012.2,333.2 1012.2,292.2 985.3,277.2" fill="#f9c48d"/>
<polygon points="1012.2,333.2 1043.9,314.8 1043.9,273.7 1012.2,292.2" fill="#f9cc9c"/>
<polyline points="985.3,277.2 1012.2,292.2 1043.9,273.7" fill="none" stroke="#dc9a58" stroke-width="1"/>
<line x1="1012.2" y1="292.2" x2="1012.2" y2="333.2" stroke="#dc9a58" stroke-width="1"/>
<polygon points="985.3,318.1 1012.2,333.2 1043.9,314.8 1043.9,273.7 1017.3,258.7 985.3,277.2" fill="none" stroke="#cf853c" stroke-width="1.36" stroke-linejoin="round"/>
<polygon points="1051.0,273.6 1077.6,288.6 1108.9,270.1 1082.7,255.1" fill="#fcd5a8"/>
<polygon points="1051.0,314.8 1077.6,329.9 1077.6,288.6 1051.0,273.6" fill="#f9c48d"/>
<polygon points="1077.6,329.9 1109.0,311.4 1108.9,270.1 1077.6,288.6" fill="#f9cc9c"/>
<polyline points="1051.0,273.6 1077.6,288.6 1108.9,270.1" fill="none" stroke="#dc9a58" stroke-width="1"/>
<line x1="1077.6" y1="288.6" x2="1077.6" y2="329.9" stroke="#dc9a58" stroke-width="1"/>
<polygon points="1051.0,314.8 1077.6,329.9 1109.0,311.4 1108.9,270.1 1082.7,255.1 1051.0,273.6" fill="none" stroke="#cf853c" stroke-width="1.36" stroke-linejoin="round"/>
<polygon points="954.9,212.1 981.7,227.0 1013.7,208.5 987.2,193.6" fill="#bee3f3"/>
<polygon points="954.9,252.9 981.7,267.9 981.7,227.0 954.9,212.1" fill="#9cd1eb"/>
<polygon points="981.7,267.9 1013.7,249.4 1013.7,208.5 981.7,227.0" fill="#a8d2e6"/>
<polyline points="954.9,212.1 981.7,227.0 1013.7,208.5" fill="none" stroke="#6399b8" stroke-width="1"/>
<line x1="981.7" y1="227.0" x2="981.7" y2="267.9" stroke="#6399b8" stroke-width="1"/>
<polygon points="954.9,252.9 981.7,267.9 1013.7,249.4 1013.7,208.5 987.2,193.6 954.9,212.1" fill="none" stroke="#1d3e52" stroke-width="1.61" stroke-linejoin="round"/>
<polygon points="1020.9,208.4 1047.4,223.3 1079.1,204.7 1052.8,189.9" fill="#bee3f3"/>
<polygon points="1020.9,249.4 1047.4,264.4 1047.4,223.3 1020.9,208.4" fill="#9cd1eb"/>
<polygon points="1047.4,264.4 1079.1,245.8 1079.1,204.7 1047.4,223.3" fill="#a8d2e6"/>
<polyline points="1020.9,208.4 1047.4,223.3 1079.1,204.7" fill="none" stroke="#6399b8" stroke-width="1"/>
<line x1="1047.4" y1="223.3" x2="1047.4" y2="264.4" stroke="#6399b8" stroke-width="1"/>
<polygon points="1020.9,249.4 1047.4,264.4 1079.1,245.8 1079.1,204.7 1052.8,189.9 1020.9,208.4" fill="none" stroke="#1d3e52" stroke-width="1.61" stroke-linejoin="round"/>
<polygon points="990.8,143.5 1017.3,158.2 1049.2,139.7 1023.0,125.1" fill="#bee3f3"/>
<polygon points="990.8,184.4 1017.3,199.2 1017.3,158.2 990.8,143.5" fill="#9cd1eb"/>
<polygon points="1017.3,199.2 1049.2,180.6 1049.2,139.7 1017.3,158.2" fill="#a8d2e6"/>
<polyline points="990.8,143.5 1017.3,158.2 1049.2,139.7" fill="none" stroke="#6399b8" stroke-width="1"/>
<line x1="1017.3" y1="158.2" x2="1017.3" y2="199.2" stroke="#6399b8" stroke-width="1"/>
<polygon points="990.8,184.4 1017.3,199.2 1049.2,180.6 1049.2,139.7 1023.0,125.1 990.8,143.5" fill="none" stroke="#1d3e52" stroke-width="1.61" stroke-linejoin="round"/>
<polygon points="883.1,301.2 910.6,316.2 942.6,297.7 915.4,282.7" fill="#fcd5a8"/>
<polygon points="883.0,342.0 910.5,357.1 910.6,316.2 883.1,301.2" fill="#f9c48d"/>
<polygon points="910.5,357.1 942.5,338.6 942.6,297.7 910.6,316.2" fill="#f9cc9c"/>
<polyline points="883.1,301.2 910.6,316.2 942.6,297.7" fill="none" stroke="#dc9a58" stroke-width="1"/>
<line x1="910.6" y1="316.2" x2="910.5" y2="357.1" stroke="#dc9a58" stroke-width="1"/>
<polygon points="883.0,342.0 910.5,357.1 942.5,338.6 942.6,297.7 915.4,282.7 883.1,301.2" fill="none" stroke="#cf853c" stroke-width="1.36" stroke-linejoin="round"/>
<polygon points="949.8,297.7 977.0,312.8 1008.7,294.3 981.8,279.2" fill="#fcd5a8"/>
<polygon points="949.8,338.7 976.9,353.8 977.0,312.8 949.8,297.7" fill="#f9c48d"/>
<polygon points="976.9,353.8 1008.6,335.3 1008.7,294.3 977.0,312.8" fill="#f9cc9c"/>
<polyline points="949.8,297.7 977.0,312.8 1008.7,294.3" fill="none" stroke="#dc9a58" stroke-width="1"/>
<line x1="977.0" y1="312.8" x2="976.9" y2="353.8" stroke="#dc9a58" stroke-width="1"/>
<polygon points="949.8,338.7 976.9,353.8 1008.6,335.3 1008.7,294.3 981.8,279.2 949.8,297.7" fill="none" stroke="#cf853c" stroke-width="1.36" stroke-linejoin="round"/>
<polygon points="1015.8,294.2 1042.7,309.3 1074.1,290.7 1047.5,275.7" fill="#fcd5a8"/>
<polygon points="1015.8,335.3 1042.7,350.4 1042.7,309.3 1015.8,294.2" fill="#f9c48d"/>
<polygon points="1042.7,350.4 1074.1,331.9 1074.1,290.7 1042.7,309.3" fill="#f9cc9c"/>
<polyline points="1015.8,294.2 1042.7,309.3 1074.1,290.7" fill="none" stroke="#dc9a58" stroke-width="1"/>
<line x1="1042.7" y1="309.3" x2="1042.7" y2="350.4" stroke="#dc9a58" stroke-width="1"/>
<polygon points="1015.8,335.3 1042.7,350.4 1074.1,331.9 1074.1,290.7 1047.5,275.7 1015.8,294.2" fill="none" stroke="#cf853c" stroke-width="1.36" stroke-linejoin="round"/>
<polygon points="1081.2,290.7 1107.7,305.6 1138.8,287.0 1112.5,272.1" fill="#fcd5a8"/>
<polygon points="1081.2,331.9 1107.8,347.0 1107.7,305.6 1081.2,290.7" fill="#f9c48d"/>
<polygon points="1107.8,347.0 1138.9,328.5 1138.8,287.0 1107.7,305.6" fill="#f9cc9c"/>
<polyline points="1081.2,290.7 1107.7,305.6 1138.8,287.0" fill="none" stroke="#dc9a58" stroke-width="1"/>
<line x1="1107.7" y1="305.6" x2="1107.8" y2="347.0" stroke="#dc9a58" stroke-width="1"/>
<polygon points="1081.2,331.9 1107.8,347.0 1138.9,328.5 1138.8,287.0 1112.5,272.1 1081.2,290.7" fill="none" stroke="#cf853c" stroke-width="1.36" stroke-linejoin="round"/>
<polygon points="919.1,232.6 946.2,247.6 978.2,229.0 951.3,214.1" fill="#bee3f3"/>
<polygon points="919.0,273.4 946.1,288.5 946.2,247.6 919.1,232.6" fill="#9cd1eb"/>
<polygon points="946.1,288.5 978.1,270.0 978.2,229.0 946.2,247.6" fill="#a8d2e6"/>
<polyline points="919.1,232.6 946.2,247.6 978.2,229.0" fill="none" stroke="#6399b8" stroke-width="1"/>
<line x1="946.2" y1="247.6" x2="946.1" y2="288.5" stroke="#6399b8" stroke-width="1"/>
<polygon points="919.0,273.4 946.1,288.5 978.1,270.0 978.2,229.0 951.3,214.1 919.1,232.6" fill="none" stroke="#1d3e52" stroke-width="1.61" stroke-linejoin="round"/>
<polygon points="985.4,229.0 1012.2,243.9 1043.9,225.3 1017.3,210.5" fill="#bee3f3"/>
<polygon points="985.4,270.0 1012.2,285.0 1012.2,243.9 985.4,229.0" fill="#9cd1eb"/>
<polygon points="1012.2,285.0 1043.9,266.4 1043.9,225.3 1012.2,243.9" fill="#a8d2e6"/>
<polyline points="985.4,229.0 1012.2,243.9 1043.9,225.3" fill="none" stroke="#6399b8" stroke-width="1"/>
<line x1="1012.2" y1="243.9" x2="1012.2" y2="285.0" stroke="#6399b8" stroke-width="1"/>
<polygon points="985.4,270.0 1012.2,285.0 1043.9,266.4 1043.9,225.3 1017.3,210.5 985.4,229.0" fill="none" stroke="#1d3e52" stroke-width="1.61" stroke-linejoin="round"/>
<polygon points="1051.0,225.3 1077.5,240.1 1108.9,221.4 1082.6,206.7" fill="#bee3f3"/>
<polygon points="1051.0,266.4 1077.5,281.3 1077.5,240.1 1051.0,225.3" fill="#9cd1eb"/>
<polygon points="1077.5,281.3 1108.9,262.8 1108.9,221.4 1077.5,240.1" fill="#a8d2e6"/>
<polyline points="1051.0,225.3 1077.5,240.1 1108.9,221.4" fill="none" stroke="#6399b8" stroke-width="1"/>
<line x1="1077.5" y1="240.1" x2="1077.5" y2="281.3" stroke="#6399b8" stroke-width="1"/>
<polygon points="1051.0,266.4 1077.5,281.3 1108.9,262.8 1108.9,221.4 1082.6,206.7 1051.0,225.3" fill="none" stroke="#1d3e52" stroke-width="1.61" stroke-linejoin="round"/>
<polygon points="955.0,164.0 981.8,178.8 1013.7,160.3 987.2,145.6" fill="#bee3f3"/>
<polygon points="954.9,204.9 981.7,219.8 981.8,178.8 955.0,164.0" fill="#9cd1eb"/>
<polygon points="981.7,219.8 1013.7,201.2 1013.7,160.3 981.8,178.8" fill="#a8d2e6"/>
<polyline points="955.0,164.0 981.8,178.8 1013.7,160.3" fill="none" stroke="#6399b8" stroke-width="1"/>
<line x1="981.8" y1="178.8" x2="981.7" y2="219.8" stroke="#6399b8" stroke-width="1"/>
<polygon points="954.9,204.9 981.7,219.8 1013.7,201.2 1013.7,160.3 987.2,145.6 955.0,164.0" fill="none" stroke="#1d3e52" stroke-width="1.61" stroke-linejoin="round"/>
<polygon points="1020.9,160.2 1047.4,174.9 1079.0,156.2 1052.8,141.6" fill="#bee3f3"/>
<polygon points="1020.9,201.2 1047.4,216.0 1047.4,174.9 1020.9,160.2" fill="#9cd1eb"/>
<polygon points="1047.4,216.0 1079.0,197.4 1079.0,156.2 1047.4,174.9" fill="#a8d2e6"/>
<polyline points="1020.9,160.2 1047.4,174.9 1079.0,156.2" fill="none" stroke="#6399b8" stroke-width="1"/>
<line x1="1047.4" y1="174.9" x2="1047.4" y2="216.0" stroke="#6399b8" stroke-width="1"/>
<polygon points="1020.9,201.2 1047.4,216.0 1079.0,197.4 1079.0,156.2 1052.8,141.6 1020.9,160.2" fill="none" stroke="#1d3e52" stroke-width="1.61" stroke-linejoin="round"/>
<polygon points="990.8,95.5 1017.3,110.0 1049.2,91.4 1023.0,77.0" fill="#bee3f3"/>
<polygon points="990.8,136.3 1017.3,151.0 1017.3,110.0 990.8,95.5" fill="#9cd1eb"/>
<polygon points="1017.3,151.0 1049.2,132.4 1049.2,91.4 1017.3,110.0" fill="#a8d2e6"/>
<polyline points="990.8,95.5 1017.3,110.0 1049.2,91.4" fill="none" stroke="#6399b8" stroke-width="1"/>
<line x1="1017.3" y1="110.0" x2="1017.3" y2="151.0" stroke="#6399b8" stroke-width="1"/>
<polygon points="990.8,136.3 1017.3,151.0 1049.2,132.4 1049.2,91.4 1023.0,77.0 990.8,95.5" fill="none" stroke="#1d3e52" stroke-width="1.61" stroke-linejoin="round"/>
<polygon points="914.3,318.3 941.7,333.4 973.4,314.8 946.3,299.8" fill="#fcd5a8"/>
<polygon points="914.2,359.2 941.7,374.3 941.7,333.4 914.3,318.3" fill="#f9c48d"/>
<polygon points="941.7,374.3 973.4,355.8 973.4,314.8 941.7,333.4" fill="#f9cc9c"/>
<polyline points="914.3,318.3 941.7,333.4 973.4,314.8" fill="none" stroke="#dc9a58" stroke-width="1"/>
<line x1="941.7" y1="333.4" x2="941.7" y2="374.3" stroke="#dc9a58" stroke-width="1"/>
<polygon points="914.2,359.2 941.7,374.3 973.4,355.8 973.4,314.8 946.3,299.8 914.3,318.3" fill="none" stroke="#cf853c" stroke-width="1.36" stroke-linejoin="round"/>
<polygon points="980.7,314.8 1007.8,329.9 1039.2,311.3 1012.3,296.3" fill="#fcd5a8"/>
<polygon points="980.6,355.8 1007.8,370.9 1007.8,329.9 980.7,314.8" fill="#f9c48d"/>
<polygon points="1007.8,370.9 1039.2,352.4 1039.2,311.3 1007.8,329.9" fill="#f9cc9c"/>
<polyline points="980.7,314.8 1007.8,329.9 1039.2,311.3" fill="none" stroke="#dc9a58" stroke-width="1"/>
<line x1="1007.8" y1="329.9" x2="1007.8" y2="370.9" stroke="#dc9a58" stroke-width="1"/>
<polygon points="980.6,355.8 1007.8,370.9 1039.2,352.4 1039.2,311.3 1012.3,296.3 980.7,314.8" fill="none" stroke="#cf853c" stroke-width="1.36" stroke-linejoin="round"/>
<polygon points="1046.3,311.3 1073.2,326.3 1104.3,307.7 1077.7,292.7" fill="#fcd5a8"/>
<polygon points="1046.4,352.5 1073.2,367.6 1073.2,326.3 1046.3,311.3" fill="#f9c48d"/>
<polygon points="1073.2,367.6 1104.3,349.1 1104.3,307.7 1073.2,326.3" fill="#f9cc9c"/>
<polyline points="1046.3,311.3 1073.2,326.3 1104.3,307.7" fill="none" stroke="#dc9a58" stroke-width="1"/>
<line x1="1073.2" y1="326.3" x2="1073.2" y2="367.6" stroke="#dc9a58" stroke-width="1"/>
<polygon points="1046.4,352.5 1073.2,367.6 1104.3,349.1 1104.3,307.7 1077.7,292.7 1046.3,311.3" fill="none" stroke="#cf853c" stroke-width="1.36" stroke-linejoin="round"/>
<polygon points="1111.3,307.7 1137.9,322.7 1168.6,304.0 1142.4,289.1" fill="#fcd5a8"/>
<polygon points="1111.4,349.1 1137.9,364.2 1137.9,322.7 1111.3,307.7" fill="#f9c48d"/>
<polygon points="1137.9,364.2 1168.7,345.7 1168.6,304.0 1137.9,322.7" fill="#f9cc9c"/>
<polyline points="1111.3,307.7 1137.9,322.7 1168.6,304.0" fill="none" stroke="#dc9a58" stroke-width="1"/>
<line x1="1137.9" y1="322.7" x2="1137.9" y2="364.2" stroke="#dc9a58" stroke-width="1"/>
<polygon points="1111.4,349.1 1137.9,364.2 1168.7,345.7 1168.6,304.0 1142.4,289.1 1111.3,307.7" fill="none" stroke="#cf853c" stroke-width="1.36" stroke-linejoin="round"/>
<polygon points="883.2,253.1 910.7,268.1 942.6,249.6 915.5,234.6" fill="#bee3f3"/>
<polygon points="883.1,293.9 910.6,309.0 910.7,268.1 883.2,253.1" fill="#9cd1eb"/>
<polygon points="910.6,309.0 942.6,290.5 942.6,249.6 910.7,268.1" fill="#a8d2e6"/>
<polyline points="883.2,253.1 910.7,268.1 942.6,249.6" fill="none" stroke="#6399b8" stroke-width="1"/>
<line x1="910.7" y1="268.1" x2="910.6" y2="309.0" stroke="#6399b8" stroke-width="1"/>
<polygon points="883.1,293.9 910.6,309.0 942.6,290.5 942.6,249.6 915.5,234.6 883.2,253.1" fill="none" stroke="#1d3e52" stroke-width="1.61" stroke-linejoin="round"/>
<polygon points="949.9,249.6 977.0,264.6 1008.7,246.0 981.8,231.1" fill="#bee3f3"/>
<polygon points="949.8,290.5 977.0,305.6 977.0,264.6 949.9,249.6" fill="#9cd1eb"/>
<polygon points="977.0,305.6 1008.7,287.0 1008.7,246.0 977.0,264.6" fill="#a8d2e6"/>
<polyline points="949.9,249.6 977.0,264.6 1008.7,246.0" fill="none" stroke="#6399b8" stroke-width="1"/>
<line x1="977.0" y1="264.6" x2="977.0" y2="305.6" stroke="#6399b8" stroke-width="1"/>
<polygon points="949.8,290.5 977.0,305.6 1008.7,287.0 1008.7,246.0 981.8,231.1 949.9,249.6" fill="none" stroke="#1d3e52" stroke-width="1.61" stroke-linejoin="round"/>
<polygon points="1015.9,245.9 1042.7,260.9 1074.0,242.2 1047.5,227.3" fill="#bee3f3"/>
<polygon points="1015.8,287.0 1042.7,302.0 1042.7,260.9 1015.9,245.9" fill="#9cd1eb"/>
<polygon points="1042.7,302.0 1074.1,283.4 1074.0,242.2 1042.7,260.9" fill="#a8d2e6"/>
<polyline points="1015.9,245.9 1042.7,260.9 1074.0,242.2" fill="none" stroke="#6399b8" stroke-width="1"/>
<line x1="1042.7" y1="260.9" x2="1042.7" y2="302.0" stroke="#6399b8" stroke-width="1"/>
<polygon points="1015.8,287.0 1042.7,302.0 1074.1,283.4 1074.0,242.2 1047.5,227.3 1015.9,245.9" fill="none" stroke="#1d3e52" stroke-width="1.61" stroke-linejoin="round"/>
<polygon points="1081.1,242.1 1107.6,257.0 1138.7,238.2 1112.4,223.5" fill="#bee3f3"/>
<polygon points="1081.2,283.4 1107.7,298.3 1107.6,257.0 1081.1,242.1" fill="#9cd1eb"/>
<polygon points="1107.7,298.3 1138.8,279.7 1138.7,238.2 1107.6,257.0" fill="#a8d2e6"/>
<polyline points="1081.1,242.1 1107.6,257.0 1138.7,238.2" fill="none" stroke="#6399b8" stroke-width="1"/>
<line x1="1107.6" y1="257.0" x2="1107.7" y2="298.3" stroke="#6399b8" stroke-width="1"/>
<polygon points="1081.2,283.4 1107.7,298.3 1138.8,279.7 1138.7,238.2 1112.4,223.5 1081.1,242.1" fill="none" stroke="#1d3e52" stroke-width="1.61" stroke-linejoin="round"/>
<polygon points="919.2,184.5 946.3,199.4 978.2,180.9 951.4,166.1" fill="#bee3f3"/>
<polygon points="919.1,225.4 946.2,240.3 946.3,199.4 919.2,184.5" fill="#9cd1eb"/>
<polygon points="946.2,240.3 978.2,221.8 978.2,180.9 946.3,199.4" fill="#a8d2e6"/>
<polyline points="919.2,184.5 946.3,199.4 978.2,180.9" fill="none" stroke="#6399b8" stroke-width="1"/>
<line x1="946.3" y1="199.4" x2="946.2" y2="240.3" stroke="#6399b8" stroke-width="1"/>
<polygon points="919.1,225.4 946.2,240.3 978.2,221.8 978.2,180.9 951.4,166.1 919.2,184.5" fill="none" stroke="#1d3e52" stroke-width="1.61" stroke-linejoin="round"/>
<polygon points="985.4,180.8 1012.2,195.6 1043.9,177.0 1017.3,162.3" fill="#bee3f3"/>
<polygon points="985.4,221.8 1012.2,236.7 1012.2,195.6 985.4,180.8" fill="#9cd1eb"/>
<polygon points="1012.2,236.7 1043.9,218.1 1043.9,177.0 1012.2,195.6" fill="#a8d2e6"/>
<polyline points="985.4,180.8 1012.2,195.6 1043.9,177.0" fill="none" stroke="#6399b8" stroke-width="1"/>
<line x1="1012.2" y1="195.6" x2="1012.2" y2="236.7" stroke="#6399b8" stroke-width="1"/>
<polygon points="985.4,221.8 1012.2,236.7 1043.9,218.1 1043.9,177.0 1017.3,162.3 985.4,180.8" fill="none" stroke="#1d3e52" stroke-width="1.61" stroke-linejoin="round"/>
<polygon points="1051.0,176.9 1077.5,191.6 1108.8,172.8 1082.6,158.2" fill="#bee3f3"/>
<polygon points="1051.0,218.0 1077.5,232.8 1077.5,191.6 1051.0,176.9" fill="#9cd1eb"/>
<polygon points="1077.5,232.8 1108.9,214.1 1108.8,172.8 1077.5,191.6" fill="#a8d2e6"/>
<polyline points="1051.0,176.9 1077.5,191.6 1108.8,172.8" fill="none" stroke="#6399b8" stroke-width="1"/>
<line x1="1077.5" y1="191.6" x2="1077.5" y2="232.8" stroke="#6399b8" stroke-width="1"/>
<polygon points="1051.0,218.0 1077.5,232.8 1108.9,214.1 1108.8,172.8 1082.6,158.2 1051.0,176.9" fill="none" stroke="#1d3e52" stroke-width="1.61" stroke-linejoin="round"/>
<polygon points="955.0,116.0 981.8,130.7 1013.7,112.1 987.2,97.5" fill="#bee3f3"/>
<polygon points="955.0,156.8 981.8,171.6 981.8,130.7 955.0,116.0" fill="#9cd1eb"/>
<polygon points="981.8,171.6 1013.7,153.0 1013.7,112.1 981.8,130.7" fill="#a8d2e6"/>
<polyline points="955.0,116.0 981.8,130.7 1013.7,112.1" fill="none" stroke="#6399b8" stroke-width="1"/>
<line x1="981.8" y1="130.7" x2="981.8" y2="171.6" stroke="#6399b8" stroke-width="1"/>
<polygon points="955.0,156.8 981.8,171.6 1013.7,153.0 1013.7,112.1 987.2,97.5 955.0,116.0" fill="none" stroke="#1d3e52" stroke-width="1.61" stroke-linejoin="round"/>
<polygon points="1020.9,112.0 1047.4,126.5 1079.0,107.8 1052.8,93.4" fill="#bee3f3"/>
<polygon points="1020.9,153.0 1047.4,167.6 1047.4,126.5 1020.9,112.0" fill="#9cd1eb"/>
<polygon points="1047.4,167.6 1079.0,149.0 1079.0,107.8 1047.4,126.5" fill="#a8d2e6"/>
<polyline points="1020.9,112.0 1047.4,126.5 1079.0,107.8" fill="none" stroke="#6399b8" stroke-width="1"/>
<line x1="1047.4" y1="126.5" x2="1047.4" y2="167.6" stroke="#6399b8" stroke-width="1"/>
<polygon points="1020.9,153.0 1047.4,167.6 1079.0,149.0 1079.0,107.8 1052.8,93.4 1020.9,112.0" fill="none" stroke="#1d3e52" stroke-width="1.61" stroke-linejoin="round"/>
<polygon points="945.5,335.4 972.9,350.5 1004.3,331.9 977.1,316.9" fill="#fcd5a8"/>
<polygon points="945.4,376.4 972.9,391.5 972.9,350.5 945.5,335.4" fill="#f9c48d"/>
<polygon points="972.9,391.5 1004.3,373.0 1004.3,331.9 972.9,350.5" fill="#f9cc9c"/>
<polyline points="945.5,335.4 972.9,350.5 1004.3,331.9" fill="none" stroke="#dc9a58" stroke-width="1"/>
<line x1="972.9" y1="350.5" x2="972.9" y2="391.5" stroke="#dc9a58" stroke-width="1"/>
<polygon points="945.4,376.4 972.9,391.5 1004.3,373.0 1004.3,331.9 977.1,316.9 945.5,335.4" fill="none" stroke="#cf853c" stroke-width="1.36" stroke-linejoin="round"/>
<polygon points="1011.5,331.9 1038.7,347.0 1069.7,328.4 1042.9,313.4" fill="#fcd5a8"/>
<polygon points="1011.5,373.0 1038.6,388.1 1038.7,347.0 1011.5,331.9" fill="#f9c48d"/>
<polygon points="1038.6,388.1 1069.8,369.6 1069.7,328.4 1038.7,347.0" fill="#f9cc9c"/>
<polyline points="1011.5,331.9 1038.7,347.0 1069.7,328.4" fill="none" stroke="#dc9a58" stroke-width="1"/>
<line x1="1038.7" y1="347.0" x2="1038.6" y2="388.1" stroke="#dc9a58" stroke-width="1"/>
<polygon points="1011.5,373.0 1038.6,388.1 1069.8,369.6 1069.7,328.4 1042.9,313.4 1011.5,331.9" fill="none" stroke="#cf853c" stroke-width="1.36" stroke-linejoin="round"/>
<polygon points="1076.8,328.4 1103.7,343.4 1134.4,324.7 1107.9,309.7" fill="#fcd5a8"/>
<polygon points="1076.9,369.6 1103.7,384.7 1103.7,343.4 1076.8,328.4" fill="#f9c48d"/>
<polygon points="1103.7,384.7 1134.5,366.2 1134.4,324.7 1103.7,343.4" fill="#f9cc9c"/>
<polyline points="1076.8,328.4 1103.7,343.4 1134.4,324.7" fill="none" stroke="#dc9a58" stroke-width="1"/>
<line x1="1103.7" y1="343.4" x2="1103.7" y2="384.7" stroke="#dc9a58" stroke-width="1"/>
<polygon points="1076.9,369.6 1103.7,384.7 1134.5,366.2 1134.4,324.7 1107.9,309.7 1076.8,328.4" fill="none" stroke="#cf853c" stroke-width="1.36" stroke-linejoin="round"/>
<polygon points="1141.5,324.7 1168.0,339.7 1198.5,321.0 1172.2,306.0" fill="#fcd5a8"/>
<polygon points="1141.6,366.2 1168.1,381.3 1168.0,339.7 1141.5,324.7" fill="#f9c48d"/>
<polygon points="1168.1,381.3 1198.6,362.8 1198.5,321.0 1168.0,339.7" fill="#f4b574"/>
<polyline points="1141.5,324.7 1168.0,339.7 1198.5,321.0" fill="none" stroke="#dc9a58" stroke-width="1"/>
<line x1="1168.0" y1="339.7" x2="1168.1" y2="381.3" stroke="#dc9a58" stroke-width="1"/>
<polygon points="1141.6,366.2 1168.1,381.3 1198.6,362.8 1198.5,321.0 1172.2,306.0 1141.5,324.7" fill="none" stroke="#cf853c" stroke-width="1.36" stroke-linejoin="round"/>
<polygon points="914.4,270.2 941.8,285.2 973.5,266.6 946.3,251.7" fill="#bee3f3"/>
<polygon points="914.3,311.1 941.8,326.2 941.8,285.2 914.4,270.2" fill="#9cd1eb"/>
<polygon points="941.8,326.2 973.5,307.6 973.5,266.6 941.8,285.2" fill="#a8d2e6"/>
<polyline points="914.4,270.2 941.8,285.2 973.5,266.6" fill="none" stroke="#6399b8" stroke-width="1"/>
<line x1="941.8" y1="285.2" x2="941.8" y2="326.2" stroke="#6399b8" stroke-width="1"/>
<polygon points="914.3,311.1 941.8,326.2 973.5,307.6 973.5,266.6 946.3,251.7 914.4,270.2" fill="none" stroke="#1d3e52" stroke-width="1.61" stroke-linejoin="round"/>
<polygon points="980.7,266.6 1007.8,281.6 1039.2,262.9 1012.3,248.0" fill="#bee3f3"/>
<polygon points="980.7,307.6 1007.8,322.6 1007.8,281.6 980.7,266.6" fill="#9cd1eb"/>
<polygon points="1007.8,322.6 1039.2,304.1 1039.2,262.9 1007.8,281.6" fill="#a8d2e6"/>
<polyline points="980.7,266.6 1007.8,281.6 1039.2,262.9" fill="none" stroke="#6399b8" stroke-width="1"/>
<line x1="1007.8" y1="281.6" x2="1007.8" y2="322.6" stroke="#6399b8" stroke-width="1"/>
<polygon points="980.7,307.6 1007.8,322.6 1039.2,304.1 1039.2,262.9 1012.3,248.0 980.7,266.6" fill="none" stroke="#1d3e52" stroke-width="1.61" stroke-linejoin="round"/>
<polygon points="1046.3,262.9 1073.1,277.8 1104.2,259.0 1077.6,244.2" fill="#bee3f3"/>
<polygon points="1046.3,304.0 1073.2,319.0 1073.1,277.8 1046.3,262.9" fill="#9cd1eb"/>
<polygon points="1073.2,319.0 1104.2,300.4 1104.2,259.0 1073.1,277.8" fill="#a8d2e6"/>
<polyline points="1046.3,262.9 1073.1,277.8 1104.2,259.0" fill="none" stroke="#6399b8" stroke-width="1"/>
<line x1="1073.1" y1="277.8" x2="1073.2" y2="319.0" stroke="#6399b8" stroke-width="1"/>
<polygon points="1046.3,304.0 1073.2,319.0 1104.2,300.4 1104.2,259.0 1077.6,244.2 1046.3,262.9" fill="none" stroke="#1d3e52" stroke-width="1.61" stroke-linejoin="round"/>
<polygon points="1111.3,259.0 1137.8,273.8 1168.5,255.0 1142.3,240.2" fill="#bee3f3"/>
<polygon points="1111.3,300.4 1137.8,315.3 1137.8,273.8 1111.3,259.0" fill="#9cd1eb"/>
<polygon points="1137.8,315.3 1168.6,296.7 1168.5,255.0 1137.8,273.8" fill="#a8d2e6"/>
<polyline points="1111.3,259.0 1137.8,273.8 1168.5,255.0" fill="none" stroke="#6399b8" stroke-width="1"/>
<line x1="1137.8" y1="273.8" x2="1137.8" y2="315.3" stroke="#6399b8" stroke-width="1"/>
<polygon points="1111.3,300.4 1137.8,315.3 1168.6,296.7 1168.5,255.0 1142.3,240.2 1111.3,259.0" fill="none" stroke="#1d3e52" stroke-width="1.61" stroke-linejoin="round"/>
<polygon points="883.4,205.1 910.8,220.1 942.7,201.5 915.6,186.6" fill="#bee3f3"/>
<polygon points="883.3,245.9 910.7,260.9 910.8,220.1 883.4,205.1" fill="#9cd1eb"/>
<polygon points="910.7,260.9 942.7,242.4 942.7,201.5 910.8,220.1" fill="#a8d2e6"/>
<polyline points="883.4,205.1 910.8,220.1 942.7,201.5" fill="none" stroke="#6399b8" stroke-width="1"/>
<line x1="910.8" y1="220.1" x2="910.7" y2="260.9" stroke="#6399b8" stroke-width="1"/>
<polygon points="883.3,245.9 910.7,260.9 942.7,242.4 942.7,201.5 915.6,186.6 883.4,205.1" fill="none" stroke="#1d3e52" stroke-width="1.61" stroke-linejoin="round"/>
<polygon points="950.0,201.5 977.1,216.4 1008.7,197.7 981.9,182.9" fill="#bee3f3"/>
<polygon points="949.9,242.4 977.0,257.3 977.1,216.4 950.0,201.5" fill="#9cd1eb"/>
<polygon points="977.0,257.3 1008.7,238.7 1008.7,197.7 977.1,216.4" fill="#a8d2e6"/>
<polyline points="950.0,201.5 977.1,216.4 1008.7,197.7" fill="none" stroke="#6399b8" stroke-width="1"/>
<line x1="977.1" y1="216.4" x2="977.0" y2="257.3" stroke="#6399b8" stroke-width="1"/>
<polygon points="949.9,242.4 977.0,257.3 1008.7,238.7 1008.7,197.7 981.9,182.9 950.0,201.5" fill="none" stroke="#1d3e52" stroke-width="1.61" stroke-linejoin="round"/>
<polygon points="1015.9,197.7 1042.7,212.5 1074.0,193.7 1047.5,179.0" fill="#bee3f3"/>
<polygon points="1015.9,238.7 1042.7,253.6 1042.7,212.5 1015.9,197.7" fill="#9cd1eb"/>
<polygon points="1042.7,253.6 1074.0,234.9 1074.0,193.7 1042.7,212.5" fill="#a8d2e6"/>
<polyline points="1015.9,197.7 1042.7,212.5 1074.0,193.7" fill="none" stroke="#6399b8" stroke-width="1"/>
<line x1="1042.7" y1="212.5" x2="1042.7" y2="253.6" stroke="#6399b8" stroke-width="1"/>
<polygon points="1015.9,238.7 1042.7,253.6 1074.0,234.9 1074.0,193.7 1047.5,179.0 1015.9,197.7" fill="none" stroke="#1d3e52" stroke-width="1.61" stroke-linejoin="round"/>
<polygon points="1081.1,193.6 1107.6,208.3 1138.6,189.4 1112.4,174.8" fill="#bee3f3"/>
<polygon points="1081.1,234.9 1107.6,249.7 1107.6,208.3 1081.1,193.6" fill="#9cd1eb"/>
<polygon points="1107.6,249.7 1138.7,230.9 1138.6,189.4 1107.6,208.3" fill="#a8d2e6"/>
<polyline points="1081.1,193.6 1107.6,208.3 1138.6,189.4" fill="none" stroke="#6399b8" stroke-width="1"/>
<line x1="1107.6" y1="208.3" x2="1107.6" y2="249.7" stroke="#6399b8" stroke-width="1"/>
<polygon points="1081.1,234.9 1107.6,249.7 1138.7,230.9 1138.6,189.4 1112.4,174.8 1081.1,193.6" fill="none" stroke="#1d3e52" stroke-width="1.61" stroke-linejoin="round"/>
<polygon points="919.3,136.5 946.3,151.3 978.3,132.7 951.5,118.0" fill="#bee3f3"/>
<polygon points="919.2,177.3 946.3,192.2 946.3,151.3 919.3,136.5" fill="#9cd1eb"/>
<polygon points="946.3,192.2 978.2,173.7 978.3,132.7 946.3,151.3" fill="#a8d2e6"/>
<polyline points="919.3,136.5 946.3,151.3 978.3,132.7" fill="none" stroke="#6399b8" stroke-width="1"/>
<line x1="946.3" y1="151.3" x2="946.3" y2="192.2" stroke="#6399b8" stroke-width="1"/>
<polygon points="919.2,177.3 946.3,192.2 978.2,173.7 978.3,132.7 951.5,118.0 919.3,136.5" fill="none" stroke="#1d3e52" stroke-width="1.61" stroke-linejoin="round"/>
<polygon points="985.5,132.7 1012.2,147.4 1043.8,128.6 1017.3,114.1" fill="#bee3f3"/>
<polygon points="985.4,173.6 1012.2,188.4 1012.2,147.4 985.5,132.7" fill="#9cd1eb"/>
<polygon points="1012.2,188.4 1043.9,169.7 1043.8,128.6 1012.2,147.4" fill="#a8d2e6"/>
<polyline points="985.5,132.7 1012.2,147.4 1043.8,128.6" fill="none" stroke="#6399b8" stroke-width="1"/>
<line x1="1012.2" y1="147.4" x2="1012.2" y2="188.4" stroke="#6399b8" stroke-width="1"/>
<polygon points="985.4,173.6 1012.2,188.4 1043.9,169.7 1043.8,128.6 1017.3,114.1 985.5,132.7" fill="none" stroke="#1d3e52" stroke-width="1.61" stroke-linejoin="round"/>
<polygon points="1051.0,128.5 1077.4,143.1 1108.7,124.2 1082.5,109.8" fill="#bee3f3"/>
<polygon points="1051.0,169.6 1077.5,184.3 1077.4,143.1 1051.0,128.5" fill="#9cd1eb"/>
<polygon points="1077.5,184.3 1108.8,165.5 1108.7,124.2 1077.4,143.1" fill="#a8d2e6"/>
<polyline points="1051.0,128.5 1077.4,143.1 1108.7,124.2" fill="none" stroke="#6399b8" stroke-width="1"/>
<line x1="1077.4" y1="143.1" x2="1077.5" y2="184.3" stroke="#6399b8" stroke-width="1"/>
<polygon points="1051.0,169.6 1077.5,184.3 1108.8,165.5 1108.7,124.2 1082.5,109.8 1051.0,128.5" fill="none" stroke="#1d3e52" stroke-width="1.61" stroke-linejoin="round"/>
<polygon points="976.7,352.6 1004.1,367.7 1035.2,349.1 1008.0,334.0" fill="#fcd5a8"/>
<polygon points="976.6,393.5 1004.1,408.6 1004.1,367.7 976.7,352.6" fill="#f9c48d"/>
<polygon points="1004.1,408.6 1035.2,390.2 1035.2,349.1 1004.1,367.7" fill="#f9cc9c"/>
<polyline points="976.7,352.6 1004.1,367.7 1035.2,349.1" fill="none" stroke="#dc9a58" stroke-width="1"/>
<line x1="1004.1" y1="367.7" x2="1004.1" y2="408.6" stroke="#dc9a58" stroke-width="1"/>
<polygon points="976.6,393.5 1004.1,408.6 1035.2,390.2 1035.2,349.1 1008.0,334.0 976.7,352.6" fill="none" stroke="#cf853c" stroke-width="1.36" stroke-linejoin="round"/>
<polygon points="1042.4,349.0 1069.5,364.1 1100.3,345.4 1073.4,330.4" fill="#fcd5a8"/>
<polygon points="1042.3,390.2 1069.5,405.3 1069.5,364.1 1042.4,349.0" fill="#f9c48d"/>
<polygon points="1069.5,405.3 1100.3,386.8 1100.3,345.4 1069.5,364.1" fill="#f9cc9c"/>
<polyline points="1042.4,349.0 1069.5,364.1 1100.3,345.4" fill="none" stroke="#dc9a58" stroke-width="1"/>
<line x1="1069.5" y1="364.1" x2="1069.5" y2="405.3" stroke="#dc9a58" stroke-width="1"/>
<polygon points="1042.3,390.2 1069.5,405.3 1100.3,386.8 1100.3,345.4 1073.4,330.4 1042.4,349.0" fill="none" stroke="#cf853c" stroke-width="1.36" stroke-linejoin="round"/>
<polygon points="1107.3,345.4 1134.2,360.4 1164.6,341.7 1138.1,326.8" fill="#fcd5a8"/>
<polygon points="1107.4,386.8 1134.2,401.9 1134.2,360.4 1107.3,345.4" fill="#f9c48d"/>
<polygon points="1134.2,401.9 1164.7,383.4 1164.6,341.7 1134.2,360.4" fill="#f4b574"/>
<polyline points="1107.3,345.4 1134.2,360.4 1164.6,341.7" fill="none" stroke="#dc9a58" stroke-width="1"/>
<line x1="1134.2" y1="360.4" x2="1134.2" y2="401.9" stroke="#dc9a58" stroke-width="1"/>
<polygon points="1107.4,386.8 1134.2,401.9 1164.7,383.4 1164.6,341.7 1138.1,326.8 1107.3,345.4" fill="none" stroke="#cf853c" stroke-width="1.36" stroke-linejoin="round"/>
<polygon points="945.6,287.3 973.0,302.3 1004.4,283.7 977.2,268.7" fill="#bee3f3"/>
<polygon points="945.5,328.2 972.9,343.3 973.0,302.3 945.6,287.3" fill="#9cd1eb"/>
<polygon points="972.9,343.3 1004.3,324.7 1004.4,283.7 973.0,302.3" fill="#a8d2e6"/>
<polyline points="945.6,287.3 973.0,302.3 1004.4,283.7" fill="none" stroke="#6399b8" stroke-width="1"/>
<line x1="973.0" y1="302.3" x2="972.9" y2="343.3" stroke="#6399b8" stroke-width="1"/>
<polygon points="945.5,328.2 972.9,343.3 1004.3,324.7 1004.4,283.7 977.2,268.7 945.6,287.3" fill="none" stroke="#1d3e52" stroke-width="1.61" stroke-linejoin="round"/>
<polygon points="1011.5,283.6 1038.7,298.6 1069.7,279.9 1042.9,265.0" fill="#bee3f3"/>
<polygon points="1011.5,324.7 1038.7,339.7 1038.7,298.6 1011.5,283.6" fill="#9cd1eb"/>
<polygon points="1038.7,339.7 1069.7,321.1 1069.7,279.9 1038.7,298.6" fill="#a8d2e6"/>
<polyline points="1011.5,283.6 1038.7,298.6 1069.7,279.9" fill="none" stroke="#6399b8" stroke-width="1"/>
<line x1="1038.7" y1="298.6" x2="1038.7" y2="339.7" stroke="#6399b8" stroke-width="1"/>
<polygon points="1011.5,324.7 1038.7,339.7 1069.7,321.1 1069.7,279.9 1042.9,265.0 1011.5,283.6" fill="none" stroke="#1d3e52" stroke-width="1.61" stroke-linejoin="round"/>
<polygon points="1076.8,279.8 1103.6,294.7 1134.4,275.9 1107.8,261.1" fill="#bee3f3"/>
<polygon points="1076.8,321.1 1103.7,336.1 1103.6,294.7 1076.8,279.8" fill="#9cd1eb"/>
<polygon points="1103.7,336.1 1134.4,317.4 1134.4,275.9 1103.6,294.7" fill="#a8d2e6"/>
<polyline points="1076.8,279.8 1103.6,294.7 1134.4,275.9" fill="none" stroke="#6399b8" stroke-width="1"/>
<line x1="1103.6" y1="294.7" x2="1103.7" y2="336.1" stroke="#6399b8" stroke-width="1"/>
<polygon points="1076.8,321.1 1103.7,336.1 1134.4,317.4 1134.4,275.9 1107.8,261.1 1076.8,279.8" fill="none" stroke="#1d3e52" stroke-width="1.61" stroke-linejoin="round"/>
<polygon points="1141.4,275.8 1167.9,290.7 1198.3,271.8 1172.1,257.0" fill="#bee3f3"/>
<polygon points="1141.5,317.4 1168.0,332.3 1167.9,290.7 1141.4,275.8" fill="#9cd1eb"/>
<polygon points="1168.0,332.3 1198.4,313.6 1198.3,271.8 1167.9,290.7" fill="#80bfdf"/>
<polyline points="1141.4,275.8 1167.9,290.7 1198.3,271.8" fill="none" stroke="#6399b8" stroke-width="1"/>
<line x1="1167.9" y1="290.7" x2="1168.0" y2="332.3" stroke="#6399b8" stroke-width="1"/>
<polygon points="1141.5,317.4 1168.0,332.3 1198.4,313.6 1198.3,271.8 1172.1,257.0 1141.4,275.8" fill="none" stroke="#1d3e52" stroke-width="1.61" stroke-linejoin="round"/>
<polygon points="914.5,222.1 941.9,237.1 973.6,218.4 946.4,203.5" fill="#bee3f3"/>
<polygon points="914.4,263.0 941.8,278.0 941.9,237.1 914.5,222.1" fill="#9cd1eb"/>
<polygon points="941.8,278.0 973.5,259.4 973.6,218.4 941.9,237.1" fill="#a8d2e6"/>
<polyline points="914.5,222.1 941.9,237.1 973.6,218.4" fill="none" stroke="#6399b8" stroke-width="1"/>
<line x1="941.9" y1="237.1" x2="941.8" y2="278.0" stroke="#6399b8" stroke-width="1"/>
<polygon points="914.4,263.0 941.8,278.0 973.5,259.4 973.6,218.4 946.4,203.5 914.5,222.1" fill="none" stroke="#1d3e52" stroke-width="1.61" stroke-linejoin="round"/>
<polygon points="980.8,218.4 1007.9,233.3 1039.2,214.5 1012.4,199.7" fill="#bee3f3"/>
<polygon points="980.7,259.4 1007.8,274.4 1007.9,233.3 980.8,218.4" fill="#9cd1eb"/>
<polygon points="1007.8,274.4 1039.2,255.7 1039.2,214.5 1007.9,233.3" fill="#a8d2e6"/>
<polyline points="980.8,218.4 1007.9,233.3 1039.2,214.5" fill="none" stroke="#6399b8" stroke-width="1"/>
<line x1="1007.9" y1="233.3" x2="1007.8" y2="274.4" stroke="#6399b8" stroke-width="1"/>
<polygon points="980.7,259.4 1007.8,274.4 1039.2,255.7 1039.2,214.5 1012.4,199.7 980.8,218.4" fill="none" stroke="#1d3e52" stroke-width="1.61" stroke-linejoin="round"/>
<polygon points="1046.3,214.5 1073.1,229.3 1104.1,210.4 1077.6,195.7" fill="#bee3f3"/>
<polygon points="1046.3,255.6 1073.1,270.5 1073.1,229.3 1046.3,214.5" fill="#9cd1eb"/>
<polygon points="1073.1,270.5 1104.2,251.7 1104.1,210.4 1073.1,229.3" fill="#a8d2e6"/>
<polyline points="1046.3,214.5 1073.1,229.3 1104.1,210.4" fill="none" stroke="#6399b8" stroke-width="1"/>
<line x1="1073.1" y1="229.3" x2="1073.1" y2="270.5" stroke="#6399b8" stroke-width="1"/>
<polygon points="1046.3,255.6 1073.1,270.5 1104.2,251.7 1104.1,210.4 1077.6,195.7 1046.3,214.5" fill="none" stroke="#1d3e52" stroke-width="1.61" stroke-linejoin="round"/>
<polygon points="1111.2,210.3 1137.7,225.0 1168.4,206.0 1142.2,191.4" fill="#bee3f3"/>
<polygon points="1111.2,251.7 1137.8,266.5 1137.7,225.0 1111.2,210.3" fill="#9cd1eb"/>
<polygon points="1137.8,266.5 1168.5,247.7 1168.4,206.0 1137.7,225.0" fill="#a8d2e6"/>
<polyline points="1111.2,210.3 1137.7,225.0 1168.4,206.0" fill="none" stroke="#6399b8" stroke-width="1"/>
<line x1="1137.7" y1="225.0" x2="1137.8" y2="266.5" stroke="#6399b8" stroke-width="1"/>
<polygon points="1111.2,251.7 1137.8,266.5 1168.5,247.7 1168.4,206.0 1142.2,191.4 1111.2,210.3" fill="none" stroke="#1d3e52" stroke-width="1.61" stroke-linejoin="round"/>
<polygon points="883.5,157.0 910.9,172.0 942.8,153.4 915.7,138.5" fill="#bee3f3"/>
<polygon points="883.4,197.8 910.8,212.8 910.9,172.0 883.5,157.0" fill="#9cd1eb"/>
<polygon points="910.8,212.8 942.7,194.3 942.8,153.4 910.9,172.0" fill="#a8d2e6"/>
<polyline points="883.5,157.0 910.9,172.0 942.8,153.4" fill="none" stroke="#6399b8" stroke-width="1"/>
<line x1="910.9" y1="172.0" x2="910.8" y2="212.8" stroke="#6399b8" stroke-width="1"/>
<polygon points="883.4,197.8 910.8,212.8 942.7,194.3 942.8,153.4 915.7,138.5 883.5,157.0" fill="none" stroke="#1d3e52" stroke-width="1.61" stroke-linejoin="round"/>
<polygon points="950.0,153.3 977.1,168.2 1008.7,149.4 981.9,134.7" fill="#bee3f3"/>
<polygon points="950.0,194.3 977.1,209.1 977.1,168.2 950.0,153.3" fill="#9cd1eb"/>
<polygon points="977.1,209.1 1008.7,190.5 1008.7,149.4 977.1,168.2" fill="#a8d2e6"/>
<polyline points="950.0,153.3 977.1,168.2 1008.7,149.4" fill="none" stroke="#6399b8" stroke-width="1"/>
<line x1="977.1" y1="168.2" x2="977.1" y2="209.1" stroke="#6399b8" stroke-width="1"/>
<polygon points="950.0,194.3 977.1,209.1 1008.7,190.5 1008.7,149.4 981.9,134.7 950.0,153.3" fill="none" stroke="#1d3e52" stroke-width="1.61" stroke-linejoin="round"/>
<polygon points="1015.9,149.4 1042.7,164.0 1073.9,145.2 1047.5,130.6" fill="#bee3f3"/>
<polygon points="1015.9,190.4 1042.7,205.2 1042.7,164.0 1015.9,149.4" fill="#9cd1eb"/>
<polygon points="1042.7,205.2 1074.0,186.4 1073.9,145.2 1042.7,164.0" fill="#a8d2e6"/>
<polyline points="1015.9,149.4 1042.7,164.0 1073.9,145.2" fill="none" stroke="#6399b8" stroke-width="1"/>
<line x1="1042.7" y1="164.0" x2="1042.7" y2="205.2" stroke="#6399b8" stroke-width="1"/>
<polygon points="1015.9,190.4 1042.7,205.2 1074.0,186.4 1073.9,145.2 1047.5,130.6 1015.9,149.4" fill="none" stroke="#1d3e52" stroke-width="1.61" stroke-linejoin="round"/>
<polygon points="1081.0,145.1 1107.5,159.6 1138.5,140.6 1112.3,126.2" fill="#bee3f3"/>
<polygon points="1081.1,186.3 1107.6,201.0 1107.5,159.6 1081.0,145.1" fill="#9cd1eb"/>
<polygon points="1107.6,201.0 1138.6,182.1 1138.5,140.6 1107.5,159.6" fill="#a8d2e6"/>
<polyline points="1081.0,145.1 1107.5,159.6 1138.5,140.6" fill="none" stroke="#6399b8" stroke-width="1"/>
<line x1="1107.5" y1="159.6" x2="1107.6" y2="201.0" stroke="#6399b8" stroke-width="1"/>
<polygon points="1081.1,186.3 1107.6,201.0 1138.6,182.1 1138.5,140.6 1112.3,126.2 1081.0,145.1" fill="none" stroke="#1d3e52" stroke-width="1.61" stroke-linejoin="round"/>
<polygon points="1007.9,369.7 1035.3,384.8 1066.1,366.2 1038.9,351.1" fill="#fcd5a8"/>
<polygon points="1007.8,410.7 1035.3,425.8 1035.3,384.8 1007.9,369.7" fill="#f9c48d"/>
<polygon points="1035.3,425.8 1066.1,407.3 1066.1,366.2 1035.3,384.8" fill="#f9cc9c"/>
<polyline points="1007.9,369.7 1035.3,384.8 1066.1,366.2" fill="none" stroke="#dc9a58" stroke-width="1"/>
<line x1="1035.3" y1="384.8" x2="1035.3" y2="425.8" stroke="#dc9a58" stroke-width="1"/>
<polygon points="1007.8,410.7 1035.3,425.8 1066.1,407.3 1066.1,366.2 1038.9,351.1 1007.9,369.7" fill="none" stroke="#cf853c" stroke-width="1.36" stroke-linejoin="round"/>
<polygon points="1073.2,366.1 1100.3,381.2 1130.8,362.5 1103.9,347.5" fill="#fcd5a8"/>
<polygon points="1073.2,407.3 1100.4,422.4 1100.3,381.2 1073.2,366.1" fill="#f9c48d"/>
<polygon points="1100.4,422.4 1130.9,403.9 1130.8,362.5 1100.3,381.2" fill="#f4b574"/>
<polyline points="1073.2,366.1 1100.3,381.2 1130.8,362.5" fill="none" stroke="#dc9a58" stroke-width="1"/>
<line x1="1100.3" y1="381.2" x2="1100.4" y2="422.4" stroke="#dc9a58" stroke-width="1"/>
<polygon points="1073.2,407.3 1100.4,422.4 1130.9,403.9 1130.8,362.5 1103.9,347.5 1073.2,366.1" fill="none" stroke="#cf853c" stroke-width="1.36" stroke-linejoin="round"/>
<polygon points="976.7,304.4 1004.2,319.4 1035.2,300.7 1008.1,285.7" fill="#bee3f3"/>
<polygon points="976.7,345.3 1004.1,360.4 1004.2,319.4 976.7,304.4" fill="#9cd1eb"/>
<polygon points="1004.1,360.4 1035.2,341.8 1035.2,300.7 1004.2,319.4" fill="#a8d2e6"/>
<polyline points="976.7,304.4 1004.2,319.4 1035.2,300.7" fill="none" stroke="#6399b8" stroke-width="1"/>
<line x1="1004.2" y1="319.4" x2="1004.1" y2="360.4" stroke="#6399b8" stroke-width="1"/>
<polygon points="976.7,345.3 1004.1,360.4 1035.2,341.8 1035.2,300.7 1008.1,285.7 976.7,304.4" fill="none" stroke="#1d3e52" stroke-width="1.61" stroke-linejoin="round"/>
<polygon points="1042.4,300.7 1069.5,315.6 1100.2,296.8 1073.4,281.9" fill="#bee3f3"/>
<polygon points="1042.4,341.8 1069.5,356.8 1069.5,315.6 1042.4,300.7" fill="#9cd1eb"/>
<polygon points="1069.5,356.8 1100.3,338.1 1100.2,296.8 1069.5,315.6" fill="#a8d2e6"/>
<polyline points="1042.4,300.7 1069.5,315.6 1100.2,296.8" fill="none" stroke="#6399b8" stroke-width="1"/>
<line x1="1069.5" y1="315.6" x2="1069.5" y2="356.8" stroke="#6399b8" stroke-width="1"/>
<polygon points="1042.4,341.8 1069.5,356.8 1100.3,338.1 1100.2,296.8 1073.4,281.9 1042.4,300.7" fill="none" stroke="#1d3e52" stroke-width="1.61" stroke-linejoin="round"/>
<polygon points="1107.3,296.8 1134.1,311.7 1164.5,292.8 1138.0,277.9" fill="#bee3f3"/>
<polygon points="1107.3,338.1 1134.2,353.1 1134.1,311.7 1107.3,296.8" fill="#9cd1eb"/>
<polygon points="1134.2,353.1 1164.6,334.4 1164.5,292.8 1134.1,311.7" fill="#80bfdf"/>
<polyline points="1107.3,296.8 1134.1,311.7 1164.5,292.8" fill="none" stroke="#6399b8" stroke-width="1"/>
<line x1="1134.1" y1="311.7" x2="1134.2" y2="353.1" stroke="#6399b8" stroke-width="1"/>
<polygon points="1107.3,338.1 1134.2,353.1 1164.6,334.4 1164.5,292.8 1138.0,277.9 1107.3,296.8" fill="none" stroke="#1d3e52" stroke-width="1.61" stroke-linejoin="round"/>
<polygon points="945.7,239.2 973.1,254.2 1004.4,235.4 977.3,220.5" fill="#bee3f3"/>
<polygon points="945.6,280.1 973.0,295.1 973.1,254.2 945.7,239.2" fill="#9cd1eb"/>
<polygon points="973.0,295.1 1004.4,276.4 1004.4,235.4 973.1,254.2" fill="#a8d2e6"/>
<polyline points="945.7,239.2 973.1,254.2 1004.4,235.4" fill="none" stroke="#6399b8" stroke-width="1"/>
<line x1="973.1" y1="254.2" x2="973.0" y2="295.1" stroke="#6399b8" stroke-width="1"/>
<polygon points="945.6,280.1 973.0,295.1 1004.4,276.4 1004.4,235.4 977.3,220.5 945.7,239.2" fill="none" stroke="#1d3e52" stroke-width="1.61" stroke-linejoin="round"/>
<polygon points="1011.6,235.3 1038.7,250.2 1069.7,231.4 1042.8,216.6" fill="#bee3f3"/>
<polygon points="1011.5,276.4 1038.7,291.4 1038.7,250.2 1011.6,235.3" fill="#9cd1eb"/>
<polygon points="1038.7,291.4 1069.7,272.6 1069.7,231.4 1038.7,250.2" fill="#a8d2e6"/>
<polyline points="1011.6,235.3 1038.7,250.2 1069.7,231.4" fill="none" stroke="#6399b8" stroke-width="1"/>
<line x1="1038.7" y1="250.2" x2="1038.7" y2="291.4" stroke="#6399b8" stroke-width="1"/>
<polygon points="1011.5,276.4 1038.7,291.4 1069.7,272.6 1069.7,231.4 1042.8,216.6 1011.6,235.3" fill="none" stroke="#1d3e52" stroke-width="1.61" stroke-linejoin="round"/>
<polygon points="1076.8,231.3 1103.6,246.1 1134.3,227.1 1107.7,212.4" fill="#bee3f3"/>
<polygon points="1076.8,272.5 1103.6,287.4 1103.6,246.1 1076.8,231.3" fill="#9cd1eb"/>
<polygon points="1103.6,287.4 1134.3,268.6 1134.3,227.1 1103.6,246.1" fill="#a8d2e6"/>
<polyline points="1076.8,231.3 1103.6,246.1 1134.3,227.1" fill="none" stroke="#6399b8" stroke-width="1"/>
<line x1="1103.6" y1="246.1" x2="1103.6" y2="287.4" stroke="#6399b8" stroke-width="1"/>
<polygon points="1076.8,272.5 1103.6,287.4 1134.3,268.6 1134.3,227.1 1107.7,212.4 1076.8,231.3" fill="none" stroke="#1d3e52" stroke-width="1.61" stroke-linejoin="round"/>
<polygon points="1141.3,227.0 1167.8,241.7 1198.2,222.6 1171.9,208.0" fill="#bee3f3"/>
<polygon points="1141.4,268.5 1167.9,283.3 1167.8,241.7 1141.3,227.0" fill="#9cd1eb"/>
<polygon points="1167.9,283.3 1198.3,264.4 1198.2,222.6 1167.8,241.7" fill="#80bfdf"/>
<polyline points="1141.3,227.0 1167.8,241.7 1198.2,222.6" fill="none" stroke="#6399b8" stroke-width="1"/>
<line x1="1167.8" y1="241.7" x2="1167.9" y2="283.3" stroke="#6399b8" stroke-width="1"/>
<polygon points="1141.4,268.5 1167.9,283.3 1198.3,264.4 1198.2,222.6 1171.9,208.0 1141.3,227.0" fill="none" stroke="#1d3e52" stroke-width="1.61" stroke-linejoin="round"/>
<polygon points="914.6,174.0 942.0,189.0 973.6,170.2 946.5,155.4" fill="#bee3f3"/>
<polygon points="914.5,214.9 941.9,229.9 942.0,189.0 914.6,174.0" fill="#9cd1eb"/>
<polygon points="941.9,229.9 973.6,211.2 973.6,170.2 942.0,189.0" fill="#a8d2e6"/>
<polyline points="914.6,174.0 942.0,189.0 973.6,170.2" fill="none" stroke="#6399b8" stroke-width="1"/>
<line x1="942.0" y1="189.0" x2="941.9" y2="229.9" stroke="#6399b8" stroke-width="1"/>
<polygon points="914.5,214.9 941.9,229.9 973.6,211.2 973.6,170.2 946.5,155.4 914.6,174.0" fill="none" stroke="#1d3e52" stroke-width="1.61" stroke-linejoin="round"/>
<polygon points="980.8,170.2 1007.9,185.0 1039.2,166.1 1012.4,151.4" fill="#bee3f3"/>
<polygon points="980.8,211.2 1007.9,226.1 1007.9,185.0 980.8,170.2" fill="#9cd1eb"/>
<polygon points="1007.9,226.1 1039.2,207.3 1039.2,166.1 1007.9,185.0" fill="#a8d2e6"/>
<polyline points="980.8,170.2 1007.9,185.0 1039.2,166.1" fill="none" stroke="#6399b8" stroke-width="1"/>
<line x1="1007.9" y1="185.0" x2="1007.9" y2="226.1" stroke="#6399b8" stroke-width="1"/>
<polygon points="980.8,211.2 1007.9,226.1 1039.2,207.3 1039.2,166.1 1012.4,151.4 980.8,170.2" fill="none" stroke="#1d3e52" stroke-width="1.61" stroke-linejoin="round"/>
<polygon points="1046.3,166.1 1073.1,180.7 1104.1,161.7 1077.6,147.2" fill="#bee3f3"/>
<polygon points="1046.3,207.2 1073.1,222.0 1073.1,180.7 1046.3,166.1" fill="#9cd1eb"/>
<polygon points="1073.1,222.0 1104.1,203.1 1104.1,161.7 1073.1,180.7" fill="#a8d2e6"/>
<polyline points="1046.3,166.1 1073.1,180.7 1104.1,161.7" fill="none" stroke="#6399b8" stroke-width="1"/>
<line x1="1073.1" y1="180.7" x2="1073.1" y2="222.0" stroke="#6399b8" stroke-width="1"/>
<polygon points="1046.3,207.2 1073.1,222.0 1104.1,203.1 1104.1,161.7 1077.6,147.2 1046.3,166.1" fill="none" stroke="#1d3e52" stroke-width="1.61" stroke-linejoin="round"/>
<polygon points="1111.1,161.6 1137.6,176.2 1168.2,157.0 1142.0,142.6" fill="#bee3f3"/>
<polygon points="1111.2,203.0 1137.7,217.7 1137.6,176.2 1111.1,161.6" fill="#9cd1eb"/>
<polygon points="1137.7,217.7 1168.3,198.7 1168.2,157.0 1137.6,176.2" fill="#a8d2e6"/>
<polyline points="1111.1,161.6 1137.6,176.2 1168.2,157.0" fill="none" stroke="#6399b8" stroke-width="1"/>
<line x1="1137.6" y1="176.2" x2="1137.7" y2="217.7" stroke="#6399b8" stroke-width="1"/>
<polygon points="1111.2,203.0 1137.7,217.7 1168.3,198.7 1168.2,157.0 1142.0,142.6 1111.1,161.6" fill="none" stroke="#1d3e52" stroke-width="1.61" stroke-linejoin="round"/>
<polygon points="1039.1,386.9 1066.5,401.9 1097.0,383.3 1069.8,368.2" fill="#fcd5a8"/>
<polygon points="1039.0,427.9 1066.5,443.0 1066.5,401.9 1039.1,386.9" fill="#f9c48d"/>
<polygon points="1066.5,443.0 1097.0,424.5 1097.0,383.3 1066.5,401.9" fill="#f4b574"/>
<polyline points="1039.1,386.9 1066.5,401.9 1097.0,383.3" fill="none" stroke="#dc9a58" stroke-width="1"/>
<line x1="1066.5" y1="401.9" x2="1066.5" y2="443.0" stroke="#dc9a58" stroke-width="1"/>
<polygon points="1039.0,427.9 1066.5,443.0 1097.0,424.5 1097.0,383.3 1069.8,368.2 1039.1,386.9" fill="none" stroke="#cf853c" stroke-width="1.36" stroke-linejoin="round"/>
<polygon points="1007.9,321.5 1035.3,336.5 1066.1,317.7 1038.9,302.7" fill="#bee3f3"/>
<polygon points="1007.9,362.5 1035.3,377.6 1035.3,336.5 1007.9,321.5" fill="#9cd1eb"/>
<polygon points="1035.3,377.6 1066.1,358.9 1066.1,317.7 1035.3,336.5" fill="#a8d2e6"/>
<polyline points="1007.9,321.5 1035.3,336.5 1066.1,317.7" fill="none" stroke="#6399b8" stroke-width="1"/>
<line x1="1035.3" y1="336.5" x2="1035.3" y2="377.6" stroke="#6399b8" stroke-width="1"/>
<polygon points="1007.9,362.5 1035.3,377.6 1066.1,358.9 1066.1,317.7 1038.9,302.7 1007.9,321.5" fill="none" stroke="#1d3e52" stroke-width="1.61" stroke-linejoin="round"/>
<polygon points="1073.2,317.7 1100.3,332.6 1130.7,313.8 1103.9,298.8" fill="#bee3f3"/>
<polygon points="1073.2,358.9 1100.3,373.9 1100.3,332.6 1073.2,317.7" fill="#9cd1eb"/>
<polygon points="1100.3,373.9 1130.8,355.2 1130.7,313.8 1100.3,332.6" fill="#80bfdf"/>
<polyline points="1073.2,317.7 1100.3,332.6 1130.7,313.8" fill="none" stroke="#6399b8" stroke-width="1"/>
<line x1="1100.3" y1="332.6" x2="1100.3" y2="373.9" stroke="#6399b8" stroke-width="1"/>
<polygon points="1073.2,358.9 1100.3,373.9 1130.8,355.2 1130.7,313.8 1103.9,298.8 1073.2,317.7" fill="none" stroke="#1d3e52" stroke-width="1.61" stroke-linejoin="round"/>
<polygon points="976.8,256.2 1004.2,271.2 1035.2,252.3 1008.1,237.4" fill="#bee3f3"/>
<polygon points="976.7,297.2 1004.2,312.2 1004.2,271.2 976.8,256.2" fill="#9cd1eb"/>
<polygon points="1004.2,312.2 1035.2,293.4 1035.2,252.3 1004.2,271.2" fill="#a8d2e6"/>
<polyline points="976.8,256.2 1004.2,271.2 1035.2,252.3" fill="none" stroke="#6399b8" stroke-width="1"/>
<line x1="1004.2" y1="271.2" x2="1004.2" y2="312.2" stroke="#6399b8" stroke-width="1"/>
<polygon points="976.7,297.2 1004.2,312.2 1035.2,293.4 1035.2,252.3 1008.1,237.4 976.8,256.2" fill="none" stroke="#1d3e52" stroke-width="1.61" stroke-linejoin="round"/>
<polygon points="1042.4,252.3 1069.5,267.2 1100.2,248.2 1073.3,233.4" fill="#bee3f3"/>
<polygon points="1042.4,293.4 1069.5,308.4 1069.5,267.2 1042.4,252.3" fill="#9cd1eb"/>
<polygon points="1069.5,308.4 1100.2,289.5 1100.2,248.2 1069.5,267.2" fill="#a8d2e6"/>
<polyline points="1042.4,252.3 1069.5,267.2 1100.2,248.2" fill="none" stroke="#6399b8" stroke-width="1"/>
<line x1="1069.5" y1="267.2" x2="1069.5" y2="308.4" stroke="#6399b8" stroke-width="1"/>
<polygon points="1042.4,293.4 1069.5,308.4 1100.2,289.5 1100.2,248.2 1073.3,233.4 1042.4,252.3" fill="none" stroke="#1d3e52" stroke-width="1.61" stroke-linejoin="round"/>
<polygon points="1107.2,248.1 1134.0,262.9 1164.4,243.8 1137.9,229.1" fill="#bee3f3"/>
<polygon points="1107.3,289.5 1134.1,304.3 1134.0,262.9 1107.2,248.1" fill="#9cd1eb"/>
<polygon points="1134.1,304.3 1164.5,285.4 1164.4,243.8 1134.0,262.9" fill="#80bfdf"/>
<polyline points="1107.2,248.1 1134.0,262.9 1164.4,243.8" fill="none" stroke="#6399b8" stroke-width="1"/>
<line x1="1134.0" y1="262.9" x2="1134.1" y2="304.3" stroke="#6399b8" stroke-width="1"/>
<polygon points="1107.3,289.5 1134.1,304.3 1164.5,285.4 1164.4,243.8 1137.9,229.1 1107.2,248.1" fill="none" stroke="#1d3e52" stroke-width="1.61" stroke-linejoin="round"/>
<polygon points="945.7,191.0 973.1,206.0 1004.4,187.1 977.3,172.3" fill="#bee3f3"/>
<polygon points="945.7,231.9 973.1,246.9 973.1,206.0 945.7,191.0" fill="#9cd1eb"/>
<polygon points="973.1,246.9 1004.4,228.1 1004.4,187.1 973.1,206.0" fill="#a8d2e6"/>
<polyline points="945.7,191.0 973.1,206.0 1004.4,187.1" fill="none" stroke="#6399b8" stroke-width="1"/>
<line x1="973.1" y1="206.0" x2="973.1" y2="246.9" stroke="#6399b8" stroke-width="1"/>
<polygon points="945.7,231.9 973.1,246.9 1004.4,228.1 1004.4,187.1 977.3,172.3 945.7,191.0" fill="none" stroke="#1d3e52" stroke-width="1.61" stroke-linejoin="round"/>
<polygon points="1011.6,187.0 1038.7,201.9 1069.6,182.9 1042.8,168.2" fill="#bee3f3"/>
<polygon points="1011.6,228.1 1038.7,243.0 1038.7,201.9 1011.6,187.0" fill="#9cd1eb"/>
<polygon points="1038.7,243.0 1069.7,224.1 1069.6,182.9 1038.7,201.9" fill="#a8d2e6"/>
<polyline points="1011.6,187.0 1038.7,201.9 1069.6,182.9" fill="none" stroke="#6399b8" stroke-width="1"/>
<line x1="1038.7" y1="201.9" x2="1038.7" y2="243.0" stroke="#6399b8" stroke-width="1"/>
<polygon points="1011.6,228.1 1038.7,243.0 1069.7,224.1 1069.6,182.9 1042.8,168.2 1011.6,187.0" fill="none" stroke="#1d3e52" stroke-width="1.61" stroke-linejoin="round"/>
<polygon points="1076.7,182.7 1103.5,197.4 1134.2,178.3 1107.7,163.7" fill="#bee3f3"/>
<polygon points="1076.8,224.0 1103.6,238.8 1103.5,197.4 1076.7,182.7" fill="#9cd1eb"/>
<polygon points="1103.6,238.8 1134.2,219.8 1134.2,178.3 1103.5,197.4" fill="#a8d2e6"/>
<polyline points="1076.7,182.7 1103.5,197.4 1134.2,178.3" fill="none" stroke="#6399b8" stroke-width="1"/>
<line x1="1103.5" y1="197.4" x2="1103.6" y2="238.8" stroke="#6399b8" stroke-width="1"/>
<polygon points="1076.8,224.0 1103.6,238.8 1134.2,219.8 1134.2,178.3 1107.7,163.7 1076.7,182.7" fill="none" stroke="#1d3e52" stroke-width="1.61" stroke-linejoin="round"/>
<polygon points="1141.2,178.1 1167.7,192.7 1198.0,173.4 1171.8,159.0" fill="#bee3f3"/>
<polygon points="1141.3,219.7 1167.8,234.3 1167.7,192.7 1141.2,178.1" fill="#9cd1eb"/>
<polygon points="1167.8,234.3 1198.1,215.2 1198.0,173.4 1167.7,192.7" fill="#80bfdf"/>
<polyline points="1141.2,178.1 1167.7,192.7 1198.0,173.4" fill="none" stroke="#6399b8" stroke-width="1"/>
<line x1="1167.7" y1="192.7" x2="1167.8" y2="234.3" stroke="#6399b8" stroke-width="1"/>
<polygon points="1141.3,219.7 1167.8,234.3 1198.1,215.2 1198.0,173.4 1171.8,159.0 1141.2,178.1" fill="none" stroke="#1d3e52" stroke-width="1.61" stroke-linejoin="round"/>
<polygon points="1039.1,338.6 1066.5,353.6 1096.9,334.7 1069.8,319.8" fill="#bee3f3"/>
<polygon points="1039.1,379.6 1066.5,394.7 1066.5,353.6 1039.1,338.6" fill="#9cd1eb"/>
<polygon points="1066.5,394.7 1096.9,376.0 1096.9,334.7 1066.5,353.6" fill="#80bfdf"/>
<polyline points="1039.1,338.6 1066.5,353.6 1096.9,334.7" fill="none" stroke="#6399b8" stroke-width="1"/>
<line x1="1066.5" y1="353.6" x2="1066.5" y2="394.7" stroke="#6399b8" stroke-width="1"/>
<polygon points="1039.1,379.6 1066.5,394.7 1096.9,376.0 1096.9,334.7 1069.8,319.8 1039.1,338.6" fill="none" stroke="#1d3e52" stroke-width="1.61" stroke-linejoin="round"/>
<polygon points="1007.9,273.3 1035.4,288.3 1066.1,269.3 1038.9,254.4" fill="#bee3f3"/>
<polygon points="1007.9,314.3 1035.3,329.3 1035.4,288.3 1007.9,273.3" fill="#9cd1eb"/>
<polygon points="1035.3,329.3 1066.1,310.4 1066.1,269.3 1035.4,288.3" fill="#a8d2e6"/>
<polyline points="1007.9,273.3 1035.4,288.3 1066.1,269.3" fill="none" stroke="#6399b8" stroke-width="1"/>
<line x1="1035.4" y1="288.3" x2="1035.3" y2="329.3" stroke="#6399b8" stroke-width="1"/>
<polygon points="1007.9,314.3 1035.3,329.3 1066.1,310.4 1066.1,269.3 1038.9,254.4 1007.9,273.3" fill="none" stroke="#1d3e52" stroke-width="1.61" stroke-linejoin="round"/>
<polygon points="1073.2,269.2 1100.3,284.1 1130.6,265.0 1103.8,250.2" fill="#bee3f3"/>
<polygon points="1073.2,310.4 1100.3,325.4 1100.3,284.1 1073.2,269.2" fill="#9cd1eb"/>
<polygon points="1100.3,325.4 1130.7,306.4 1130.6,265.0 1100.3,284.1" fill="#80bfdf"/>
<polyline points="1073.2,269.2 1100.3,284.1 1130.6,265.0" fill="none" stroke="#6399b8" stroke-width="1"/>
<line x1="1100.3" y1="284.1" x2="1100.3" y2="325.4" stroke="#6399b8" stroke-width="1"/>
<polygon points="1073.2,310.4 1100.3,325.4 1130.7,306.4 1130.6,265.0 1103.8,250.2 1073.2,269.2" fill="none" stroke="#1d3e52" stroke-width="1.61" stroke-linejoin="round"/>
<polygon points="976.9,208.0 1004.3,223.0 1035.2,204.0 1008.1,189.1" fill="#bee3f3"/>
<polygon points="976.8,249.0 1004.2,264.0 1004.3,223.0 976.9,208.0" fill="#9cd1eb"/>
<polygon points="1004.2,264.0 1035.2,245.1 1035.2,204.0 1004.3,223.0" fill="#a8d2e6"/>
<polyline points="976.9,208.0 1004.3,223.0 1035.2,204.0" fill="none" stroke="#6399b8" stroke-width="1"/>
<line x1="1004.3" y1="223.0" x2="1004.2" y2="264.0" stroke="#6399b8" stroke-width="1"/>
<polygon points="976.8,249.0 1004.2,264.0 1035.2,245.1 1035.2,204.0 1008.1,189.1 976.9,208.0" fill="none" stroke="#1d3e52" stroke-width="1.61" stroke-linejoin="round"/>
<polygon points="1042.4,203.9 1069.4,218.7 1100.1,199.6 1073.3,184.9" fill="#bee3f3"/>
<polygon points="1042.4,245.0 1069.5,259.9 1069.4,218.7 1042.4,203.9" fill="#9cd1eb"/>
<polygon points="1069.5,259.9 1100.1,240.9 1100.1,199.6 1069.4,218.7" fill="#a8d2e6"/>
<polyline points="1042.4,203.9 1069.4,218.7 1100.1,199.6" fill="none" stroke="#6399b8" stroke-width="1"/>
<line x1="1069.4" y1="218.7" x2="1069.5" y2="259.9" stroke="#6399b8" stroke-width="1"/>
<polygon points="1042.4,245.0 1069.5,259.9 1100.1,240.9 1100.1,199.6 1073.3,184.9 1042.4,203.9" fill="none" stroke="#1d3e52" stroke-width="1.61" stroke-linejoin="round"/>
<polygon points="1107.2,199.4 1133.9,214.1 1164.3,194.8 1137.8,180.3" fill="#bee3f3"/>
<polygon points="1107.2,240.8 1134.0,255.6 1133.9,214.1 1107.2,199.4" fill="#9cd1eb"/>
<polygon points="1134.0,255.6 1164.4,236.5 1164.3,194.8 1133.9,214.1" fill="#80bfdf"/>
<polyline points="1107.2,199.4 1133.9,214.1 1164.3,194.8" fill="none" stroke="#6399b8" stroke-width="1"/>
<line x1="1133.9" y1="214.1" x2="1134.0" y2="255.6" stroke="#6399b8" stroke-width="1"/>
<polygon points="1107.2,240.8 1134.0,255.6 1164.4,236.5 1164.3,194.8 1137.8,180.3 1107.2,199.4" fill="none" stroke="#1d3e52" stroke-width="1.61" stroke-linejoin="round"/>
<polygon points="1039.1,290.3 1066.5,305.3 1096.9,286.2 1069.8,271.3" fill="#bee3f3"/>
<polygon points="1039.1,331.3 1066.5,346.4 1066.5,305.3 1039.1,290.3" fill="#9cd1eb"/>
<polygon points="1066.5,346.4 1096.9,327.5 1096.9,286.2 1066.5,305.3" fill="#80bfdf"/>
<polyline points="1039.1,290.3 1066.5,305.3 1096.9,286.2" fill="none" stroke="#6399b8" stroke-width="1"/>
<line x1="1066.5" y1="305.3" x2="1066.5" y2="346.4" stroke="#6399b8" stroke-width="1"/>
<polygon points="1039.1,331.3 1066.5,346.4 1096.9,327.5 1096.9,286.2 1069.8,271.3 1039.1,290.3" fill="none" stroke="#1d3e52" stroke-width="1.61" stroke-linejoin="round"/>
<polygon points="1008.0,225.0 1035.4,240.0 1066.0,220.8 1038.9,206.0" fill="#bee3f3"/>
<polygon points="1008.0,266.0 1035.4,281.0 1035.4,240.0 1008.0,225.0" fill="#9cd1eb"/>
<polygon points="1035.4,281.0 1066.0,262.0 1066.0,220.8 1035.4,240.0" fill="#a8d2e6"/>
<polyline points="1008.0,225.0 1035.4,240.0 1066.0,220.8" fill="none" stroke="#6399b8" stroke-width="1"/>
<line x1="1035.4" y1="240.0" x2="1035.4" y2="281.0" stroke="#6399b8" stroke-width="1"/>
<polygon points="1008.0,266.0 1035.4,281.0 1066.0,262.0 1066.0,220.8 1038.9,206.0 1008.0,225.0" fill="none" stroke="#1d3e52" stroke-width="1.61" stroke-linejoin="round"/>
<polygon points="1073.1,220.7 1100.2,235.6 1130.6,216.3 1103.8,201.6" fill="#bee3f3"/>
<polygon points="1073.2,261.9 1100.3,276.8 1100.2,235.6 1073.1,220.7" fill="#9cd1eb"/>
<polygon points="1100.3,276.8 1130.6,257.7 1130.6,216.3 1100.2,235.6" fill="#80bfdf"/>
<polyline points="1073.1,220.7 1100.2,235.6 1130.6,216.3" fill="none" stroke="#6399b8" stroke-width="1"/>
<line x1="1100.2" y1="235.6" x2="1100.3" y2="276.8" stroke="#6399b8" stroke-width="1"/>
<polygon points="1073.2,261.9 1100.3,276.8 1130.6,257.7 1130.6,216.3 1103.8,201.6 1073.1,220.7" fill="none" stroke="#1d3e52" stroke-width="1.61" stroke-linejoin="round"/>
<polygon points="1039.1,242.0 1066.5,257.0 1096.8,237.7 1069.7,222.9" fill="#bee3f3"/>
<polygon points="1039.1,283.1 1066.5,298.1 1066.5,257.0 1039.1,242.0" fill="#9cd1eb"/>
<polygon points="1066.5,298.1 1096.9,278.9 1096.8,237.7 1066.5,257.0" fill="#80bfdf"/>
<polyline points="1039.1,242.0 1066.5,257.0 1096.8,237.7" fill="none" stroke="#6399b8" stroke-width="1"/>
<line x1="1066.5" y1="257.0" x2="1066.5" y2="298.1" stroke="#6399b8" stroke-width="1"/>
<polygon points="1039.1,283.1 1066.5,298.1 1096.9,278.9 1096.8,237.7 1069.7,222.9 1039.1,242.0" fill="none" stroke="#1d3e52" stroke-width="1.61" stroke-linejoin="round"/>
<line x1="1216.0" y1="183.6" x2="1216.0" y2="353.0" stroke="#2c3e50" stroke-width="2.8"/><polygon points="1216.0,171.6 1223.0,186.6 1209.0,186.6" fill="#2c3e50"/><polygon points="1216.0,365.0 1209.0,350.0 1223.0,350.0" fill="#2c3e50"/>
<line x1="832.8" y1="369.2" x2="877.3" y2="342.3" stroke="#8c8a85" stroke-width="2.2" stroke-dasharray="8,8"/>
<line x1="1015.6" y1="474.7" x2="1059" y2="447.7" stroke="#8c8a85" stroke-width="2.2" stroke-dasharray="8,8"/>
<rect x="719" y="256.4" width="150" height="34.3" rx="8" fill="#fefefc"/>
<text x="726.5" y="281.4" font-size="24.5" fill="#161c22" textLength="135" lengthAdjust="spacingAndGlyphs" stroke="#161c22" stroke-width="0.5">Base layer (<tspan font-style="italic">b</tspan>)</text>
<path d="M812,295.4 C818,318 838,328 866,328" fill="none" stroke="#2c3e50" stroke-width="2.6"/>
<polygon points="877.0,328.0 862.0,335.0 862.0,321.0" fill="#2c3e50"/>
<rect x="1223" y="228.4" width="93" height="58.4" rx="8" fill="#fefefc"/>
<text x="1229.5" y="253.8" font-size="25" fill="#161c22" textLength="80" lengthAdjust="spacingAndGlyphs" stroke="#161c22" stroke-width="0.5">height =</text>
<text x="1229.5" y="278.7" font-size="25" fill="#161c22" textLength="79" lengthAdjust="spacingAndGlyphs" stroke="#161c22" stroke-width="0.5">4 layers</text>
<rect x="729.6" y="600.6" width="191.4" height="115.4" rx="9" fill="#fefefc"/>
<text x="740" y="628.5" font-size="24.5" fill="#161c22" textLength="129" lengthAdjust="spacingAndGlyphs" stroke="#161c22" stroke-width="0.5">Base area (<tspan font-style="italic">b</tspan>)</text>
<text x="740" y="653.9" font-size="24.5" fill="#161c22" textLength="156" lengthAdjust="spacingAndGlyphs" stroke="#161c22" stroke-width="0.5">= length × width</text>
<text x="740" y="679" font-size="24.5" fill="#161c22" textLength="66" lengthAdjust="spacingAndGlyphs" stroke="#161c22" stroke-width="0.5">= 5 × 3</text>
<text x="740" y="703.7" font-size="24.5" fill="#161c22" textLength="170" lengthAdjust="spacingAndGlyphs" stroke="#161c22" stroke-width="0.5">= 15 square units</text>
<path d="M800.6,593.8 C792,575 795,556 803,545" fill="none" stroke="#2c3e50" stroke-width="2.6"/>
<polygon points="805.0,534.0 806.5,550.5 793.4,545.8" fill="#2c3e50"/>
<text x="0" y="0" transform="translate(207.3,621.2) scale(0.8,1)" font-size="45" font-weight="bold" font-style="italic" text-anchor="middle" fill="#283848" stroke="#283848" stroke-width="0.9">V</text>
<text x="0" y="0" transform="translate(241.7,621.2) scale(0.72,1)" font-size="46" font-weight="bold" font-style="normal" text-anchor="middle" fill="#283848" stroke="#283848" stroke-width="0.9">=</text>
<text x="0" y="0" transform="translate(272,621.2) scale(1.3,1)" font-size="46" font-weight="normal" font-style="italic" text-anchor="middle" fill="#283848" stroke="#283848" stroke-width="0.5">ℓ</text>
<text x="0" y="0" transform="translate(299.2,621.2) scale(1.0,1)" font-size="42" font-weight="normal" font-style="normal" text-anchor="middle" fill="#283848" stroke="#283848" stroke-width="0.5">×</text>
<text x="0" y="0" transform="translate(332.5,621.2) scale(0.78,1)" font-size="45" font-weight="bold" font-style="italic" text-anchor="middle" fill="#283848" stroke="#283848" stroke-width="0.9">w</text>
<text x="0" y="0" transform="translate(367.2,621.2) scale(1.0,1)" font-size="42" font-weight="normal" font-style="normal" text-anchor="middle" fill="#283848" stroke="#283848" stroke-width="0.5">×</text>
<text x="0" y="0" transform="translate(397.6,621.2) scale(0.82,1)" font-size="45" font-weight="bold" font-style="italic" text-anchor="middle" fill="#283848" stroke="#283848" stroke-width="0.9">h</text>
<text x="238" y="665.3" font-size="40" fill="#23313c" textLength="151" lengthAdjust="spacingAndGlyphs" stroke="#23313c" stroke-width="0.5">= 5 × 3 × 4</text>
<text x="238" y="709.5" font-size="40" fill="#1c2833" textLength="233" lengthAdjust="spacingAndGlyphs" stroke="#1c2833" stroke-width="0.5">= 60 cubic units</text>
<text x="0" y="0" transform="translate(1056,541.4) scale(0.8,1)" font-size="45" font-weight="bold" font-style="italic" text-anchor="middle" fill="#283848" stroke="#283848" stroke-width="0.9">V</text>
<text x="0" y="0" transform="translate(1089.7,541.4) scale(0.72,1)" font-size="46" font-weight="bold" font-style="normal" text-anchor="middle" fill="#283848" stroke="#283848" stroke-width="0.9">=</text>
<text x="0" y="0" transform="translate(1121.5,541.4) scale(0.82,1)" font-size="45" font-weight="bold" font-style="italic" text-anchor="middle" fill="#283848" stroke="#283848" stroke-width="0.9">b</text>
<text x="0" y="0" transform="translate(1153.4,541.4) scale(1.0,1)" font-size="42" font-weight="normal" font-style="normal" text-anchor="middle" fill="#283848" stroke="#283848" stroke-width="0.5">×</text>
<text x="0" y="0" transform="translate(1183.5,541.4) scale(0.82,1)" font-size="45" font-weight="bold" font-style="italic" text-anchor="middle" fill="#283848" stroke="#283848" stroke-width="0.9">h</text>
<text x="1086.3" y="585.7" font-size="40" fill="#23313c" textLength="116" lengthAdjust="spacingAndGlyphs" stroke="#23313c" stroke-width="0.5">= 15 × 4</text>
<text x="1086.3" y="629.7" font-size="40" fill="#1c2833" textLength="232" lengthAdjust="spacingAndGlyphs" stroke="#1c2833" stroke-width="0.5">= 60 cubic units</text>
</svg>
</body></html>
